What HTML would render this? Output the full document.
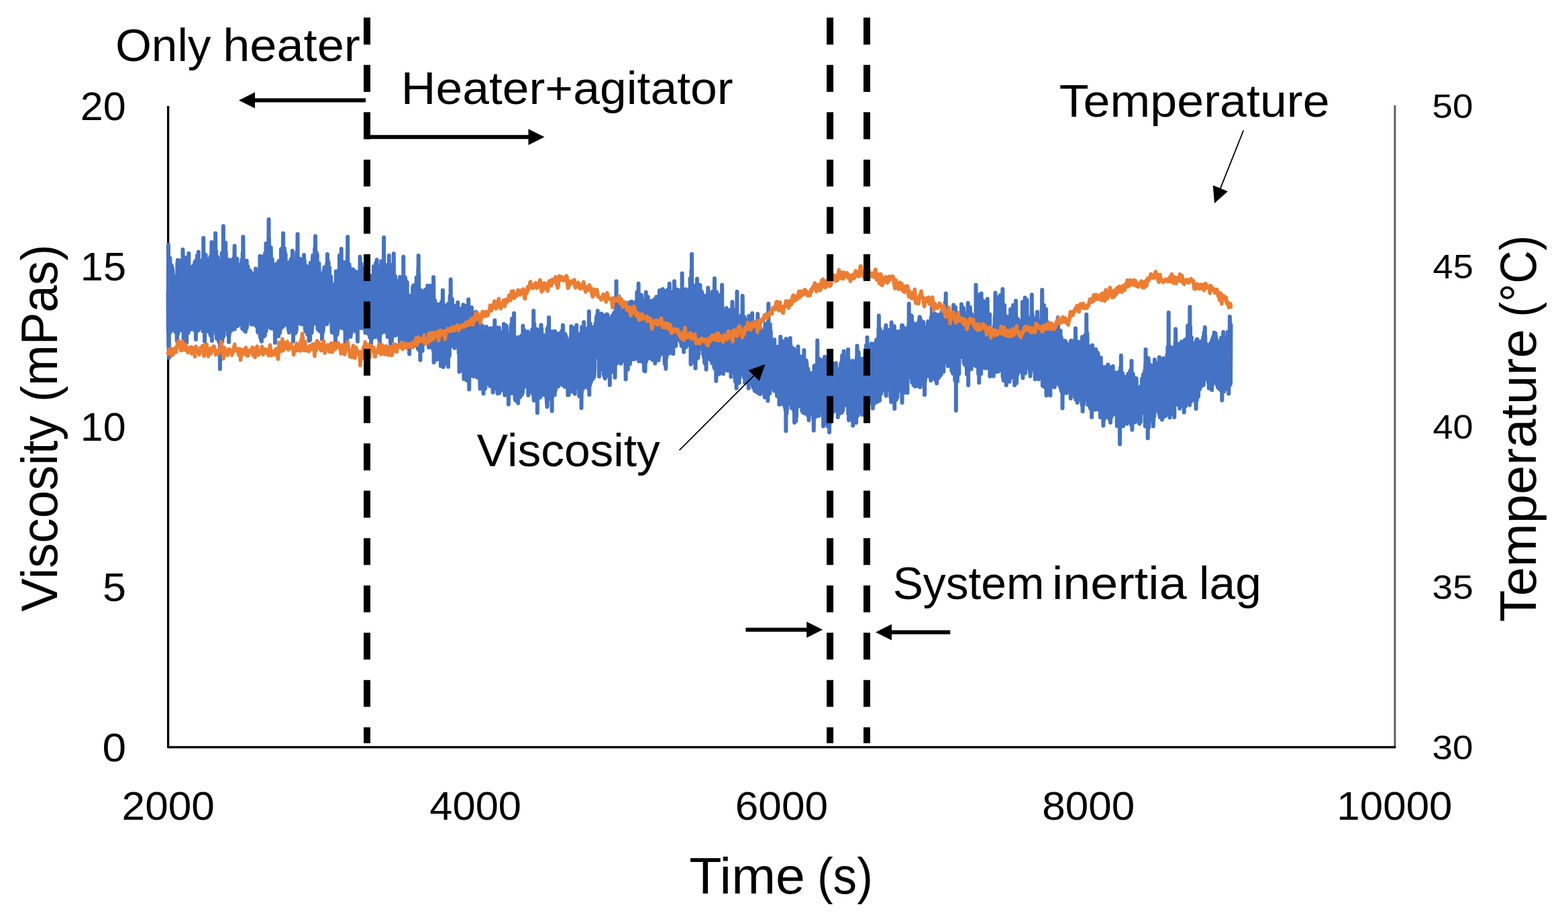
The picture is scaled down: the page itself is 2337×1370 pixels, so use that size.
<!DOCTYPE html>
<html lang="en"><head><meta charset="utf-8"><title>Viscosity and temperature vs time</title>
<style>html,body{margin:0;padding:0;background:#fff}body{width:2337px;height:1370px;overflow:hidden}svg{display:block}</style>
</head><body>
<svg width="2337" height="1370" viewBox="0 0 2337 1370" font-family="'Liberation Sans', sans-serif">
<rect width="2337" height="1370" fill="#fff"/>
<line x1="2079.0" y1="157.0" x2="2079.0" y2="1113.9" stroke="#5e5e5e" stroke-width="3.0"/>
<polyline points="250.6,158.0 250.6,1113.9 2080.3,1113.9" fill="none" stroke="#000" stroke-width="3.3" stroke-linejoin="round"/>
<polyline points="250.50,435.3 250.73,495.9 250.95,364.7 251.18,516.4 251.41,448.8 251.63,384.6 251.86,533.2 252.08,416.4 252.31,393.3 252.54,384.7 252.76,458.0 252.99,487.5 253.22,396.6 253.44,384.4 253.67,433.0 253.89,495.2 254.12,471.6 254.35,477.5 254.57,395.0 254.80,466.5 255.03,440.4 255.25,422.5 255.48,492.5 255.71,489.5 255.93,396.0 256.16,414.3 256.38,444.2 256.61,491.3 256.84,448.5 257.06,399.8 257.29,484.2 257.52,404.8 257.74,408.3 257.97,453.3 258.19,478.7 258.42,474.5 258.65,416.9 258.87,428.1 259.10,433.9 259.33,427.4 259.55,474.3 259.78,418.6 260.01,481.9 260.23,412.1 260.46,438.0 260.68,441.3 260.91,433.4 261.14,494.4 261.36,434.0 261.59,422.5 261.82,492.6 262.04,482.2 262.27,456.1 262.49,494.5 262.72,480.2 262.95,444.1 263.17,429.4 263.40,430.3 263.63,507.0 263.85,495.2 264.08,509.0 264.31,392.7 264.53,458.3 264.76,387.8 264.98,462.7 265.21,390.6 265.44,497.6 265.66,460.8 265.89,442.9 266.12,437.4 266.34,393.5 266.57,392.3 266.79,388.3 267.02,410.6 267.25,416.8 267.47,491.1 267.70,451.9 267.93,388.6 268.15,392.3 268.38,395.4 268.61,487.0 268.83,470.0 269.06,490.3 269.28,420.4 269.51,492.2 269.74,395.7 269.96,395.8 270.19,490.3 270.42,489.7 270.64,488.8 270.87,487.6 271.09,394.4 271.32,450.9 271.55,467.0 271.77,460.0 272.00,484.1 272.23,483.4 272.45,371.9 272.68,411.7 272.91,394.6 273.13,395.3 273.36,480.7 273.58,509.5 273.81,465.8 274.04,487.1 274.26,445.7 274.49,492.9 274.72,419.3 274.94,404.5 275.17,428.2 275.39,408.1 275.62,420.8 275.85,390.9 276.07,384.1 276.30,414.6 276.53,469.5 276.75,496.5 276.98,387.8 277.21,394.9 277.43,449.9 277.66,455.2 277.88,405.9 278.11,511.0 278.34,416.7 278.56,398.9 278.79,457.9 279.02,430.9 279.24,484.5 279.47,451.3 279.70,430.2 279.92,400.7 280.15,442.8 280.37,493.0 280.60,495.9 280.83,419.5 281.05,492.3 281.28,377.8 281.51,484.4 281.73,487.5 281.96,490.3 282.18,488.0 282.41,491.4 282.64,447.0 282.86,445.6 283.09,486.6 283.32,448.2 283.54,484.7 283.77,470.9 284.00,487.6 284.22,443.0 284.45,437.1 284.67,397.9 284.90,487.8 285.13,487.1 285.35,443.7 285.58,425.9 285.81,489.5 286.03,490.9 286.26,399.7 286.48,440.3 286.71,484.8 286.94,482.6 287.16,486.7 287.39,487.5 287.62,456.5 287.84,479.6 288.07,488.7 288.30,466.5 288.52,395.8 288.75,445.4 288.97,413.8 289.20,452.2 289.43,396.3 289.65,488.2 289.88,487.9 290.11,492.1 290.33,390.7 290.56,438.3 290.78,412.7 291.01,492.9 291.24,427.0 291.46,433.4 291.69,435.4 291.92,506.0 292.14,478.5 292.37,388.0 292.60,494.6 292.82,478.7 293.05,440.1 293.27,424.0 293.50,386.7 293.73,484.5 293.95,381.1 294.18,447.9 294.41,394.4 294.63,458.0 294.86,484.6 295.08,393.1 295.31,381.0 295.54,492.4 295.76,375.5 295.99,484.0 296.22,401.2 296.44,423.2 296.67,489.5 296.90,486.4 297.12,387.5 297.35,435.0 297.57,390.3 297.80,458.5 298.03,393.2 298.25,410.5 298.48,393.1 298.71,398.5 298.93,484.0 299.16,390.7 299.38,393.9 299.61,488.9 299.84,392.3 300.06,489.3 300.29,467.2 300.52,471.4 300.74,432.3 300.97,485.9 301.20,390.1 301.42,486.0 301.65,402.0 301.87,402.2 302.10,390.4 302.33,493.7 302.55,443.0 302.78,425.4 303.01,426.7 303.23,354.8 303.46,442.9 303.68,394.3 303.91,491.7 304.14,377.9 304.36,483.5 304.59,415.7 304.82,395.5 305.04,509.0 305.27,464.8 305.50,403.9 305.72,489.8 305.95,433.0 306.17,387.3 306.40,494.5 306.63,380.0 306.85,444.9 307.08,446.7 307.31,432.1 307.53,402.7 307.76,396.8 307.98,485.7 308.21,436.4 308.44,492.7 308.66,395.0 308.89,480.1 309.12,483.9 309.34,400.0 309.57,399.5 309.80,492.3 310.02,401.7 310.25,487.9 310.47,399.2 310.70,491.1 310.93,492.2 311.15,492.9 311.38,464.0 311.61,401.9 311.83,494.9 312.06,386.8 312.28,493.1 312.51,459.2 312.74,489.2 312.96,389.9 313.19,497.9 313.42,382.9 313.64,494.6 313.87,393.4 314.10,500.5 314.32,498.5 314.55,390.0 314.77,404.2 315.00,420.8 315.23,382.0 315.45,361.1 315.68,433.3 315.91,508.0 316.13,477.2 316.36,431.7 316.58,497.7 316.81,410.8 317.04,400.8 317.26,414.1 317.49,468.0 317.72,392.3 317.94,490.5 318.17,491.8 318.40,491.4 318.62,428.7 318.85,488.6 319.07,455.1 319.30,491.0 319.53,487.5 319.75,486.1 319.98,404.5 320.21,401.0 320.43,386.4 320.66,406.5 320.88,422.4 321.11,347.7 321.34,396.8 321.56,382.0 321.79,488.5 322.02,398.0 322.24,374.6 322.47,410.8 322.70,391.2 322.92,504.6 323.15,495.0 323.37,387.4 323.60,501.7 323.83,495.1 324.05,487.9 324.28,383.5 324.51,488.3 324.73,475.1 324.96,460.6 325.18,467.7 325.41,463.6 325.64,506.9 325.86,497.6 326.09,472.1 326.32,509.7 326.54,389.5 326.77,436.8 327.00,392.0 327.22,427.4 327.45,390.8 327.67,390.7 327.90,550.0 328.13,511.3 328.35,434.9 328.58,484.0 328.81,518.0 329.03,399.4 329.26,415.2 329.48,419.3 329.71,438.9 329.94,401.8 330.16,492.6 330.39,434.3 330.62,377.2 330.84,500.3 331.07,492.9 331.30,509.1 331.52,379.9 331.75,483.5 331.97,417.2 332.20,441.0 332.43,460.3 332.65,436.2 332.88,336.9 333.11,501.7 333.33,488.0 333.56,412.6 333.79,446.5 334.01,488.1 334.24,416.0 334.46,483.6 334.69,434.3 334.92,490.7 335.14,488.5 335.37,487.6 335.60,427.4 335.82,429.2 336.05,361.8 336.27,397.7 336.50,410.1 336.73,375.5 336.95,457.2 337.18,461.8 337.41,402.4 337.63,478.9 337.86,450.7 338.09,412.3 338.31,385.9 338.54,437.5 338.76,447.3 338.99,400.6 339.22,404.2 339.44,459.5 339.67,499.3 339.90,395.8 340.12,494.8 340.35,467.0 340.57,442.3 340.80,431.6 341.03,510.0 341.25,410.5 341.48,453.7 341.71,499.7 341.93,447.7 342.16,403.6 342.39,388.6 342.61,413.9 342.84,487.9 343.06,489.5 343.29,387.6 343.52,493.8 343.74,390.1 343.97,440.0 344.20,391.2 344.42,491.0 344.65,475.4 344.87,398.3 345.10,466.6 345.33,453.6 345.55,397.9 345.78,398.0 346.01,401.1 346.23,491.7 346.46,489.1 346.69,439.0 346.91,436.6 347.14,439.1 347.36,486.0 347.59,441.8 347.82,487.9 348.04,442.1 348.27,408.1 348.50,384.6 348.72,417.2 348.95,389.5 349.17,456.3 349.40,385.1 349.63,366.5 349.85,490.4 350.08,398.9 350.31,396.2 350.53,446.9 350.76,456.5 350.99,388.6 351.21,430.7 351.44,390.8 351.66,393.6 351.89,417.2 352.12,409.4 352.34,420.9 352.57,413.9 352.80,443.0 353.02,388.7 353.25,385.7 353.47,419.2 353.70,427.2 353.93,411.0 354.15,486.0 354.38,393.7 354.61,462.5 354.83,395.9 355.06,407.9 355.29,473.3 355.51,394.6 355.74,402.0 355.96,407.2 356.19,433.6 356.42,400.0 356.64,411.7 356.87,413.2 357.10,458.8 357.32,405.9 357.55,413.0 357.77,447.7 358.00,479.9 358.23,414.9 358.45,408.7 358.68,483.9 358.91,407.0 359.13,435.9 359.36,484.5 359.59,441.5 359.81,423.8 360.04,445.7 360.26,387.4 360.49,421.2 360.72,443.1 360.94,427.6 361.17,490.0 361.40,451.0 361.62,377.6 361.85,440.5 362.07,450.4 362.30,353.0 362.53,370.2 362.75,407.6 362.98,444.5 363.21,490.8 363.43,490.5 363.66,492.2 363.89,398.9 364.11,491.2 364.34,460.9 364.56,452.0 364.79,395.8 365.02,396.3 365.24,402.6 365.47,476.9 365.70,398.8 365.92,494.5 366.15,454.9 366.37,420.9 366.60,408.2 366.83,435.3 367.05,489.9 367.28,443.4 367.51,392.6 367.73,388.7 367.96,488.1 368.19,432.0 368.41,419.1 368.64,449.9 368.86,419.9 369.09,431.2 369.32,397.1 369.54,397.7 369.77,458.7 370.00,409.7 370.22,455.2 370.45,452.6 370.67,459.0 370.90,457.3 371.13,470.0 371.35,432.8 371.58,427.6 371.81,466.4 372.03,409.2 372.26,413.0 372.49,403.4 372.71,418.8 372.94,471.8 373.16,477.3 373.39,427.6 373.62,405.3 373.84,419.1 374.07,449.9 374.30,483.5 374.52,439.5 374.75,471.3 374.97,468.8 375.20,407.2 375.43,478.4 375.65,481.4 375.88,462.6 376.11,443.2 376.33,483.5 376.56,462.5 376.79,449.6 377.01,458.2 377.24,483.5 377.46,417.1 377.69,439.7 377.92,431.9 378.14,452.6 378.37,449.3 378.60,433.3 378.82,454.6 379.05,441.9 379.27,480.9 379.50,477.3 379.73,444.7 379.95,446.3 380.18,434.7 380.41,420.2 380.63,455.4 380.86,471.4 381.09,400.5 381.31,411.1 381.54,477.2 381.76,485.9 381.99,416.1 382.22,411.6 382.44,409.6 382.67,474.5 382.90,452.2 383.12,442.8 383.35,421.1 383.58,469.2 383.80,433.8 384.03,494.3 384.25,493.6 384.48,474.5 384.71,495.7 384.93,453.1 385.16,436.4 385.39,490.2 385.61,483.5 385.84,489.0 386.06,488.4 386.29,491.0 386.52,464.0 386.74,469.3 386.97,490.2 387.20,415.7 387.42,381.8 387.65,395.5 387.88,502.2 388.10,448.6 388.33,455.0 388.55,504.4 388.78,388.3 389.01,506.4 389.23,386.4 389.46,390.0 389.69,435.2 389.91,509.0 390.14,389.5 390.36,496.1 390.59,489.1 390.82,491.0 391.04,493.1 391.27,389.4 391.50,491.1 391.72,384.7 391.95,382.2 392.18,389.9 392.40,390.0 392.63,393.1 392.85,383.6 393.08,495.7 393.31,501.6 393.53,392.8 393.76,481.8 393.99,500.2 394.21,443.2 394.44,497.1 394.66,500.2 394.89,499.5 395.12,377.2 395.34,391.0 395.57,386.2 395.80,492.0 396.02,473.1 396.25,494.0 396.48,362.9 396.70,493.6 396.93,396.1 397.15,465.1 397.38,488.7 397.61,385.0 397.83,466.1 398.06,392.2 398.29,387.0 398.51,377.8 398.74,416.4 398.96,397.6 399.19,394.6 399.42,376.9 399.64,398.9 399.87,436.4 400.10,397.8 400.32,357.4 400.55,327.0 400.78,382.6 401.00,356.0 401.23,390.3 401.45,384.6 401.68,381.7 401.91,447.3 402.13,455.2 402.36,456.7 402.59,483.8 402.81,486.0 403.04,447.9 403.26,488.9 403.49,434.0 403.72,369.0 403.94,385.2 404.17,394.7 404.40,430.8 404.62,488.1 404.85,387.1 405.08,489.8 405.30,408.3 405.53,484.0 405.75,386.4 405.98,482.7 406.21,430.1 406.43,434.5 406.66,486.9 406.89,482.0 407.11,478.1 407.34,444.6 407.56,399.2 407.79,399.4 408.02,394.2 408.24,398.5 408.47,395.7 408.70,398.8 408.92,486.7 409.15,443.9 409.38,450.9 409.60,402.5 409.83,502.9 410.05,511.0 410.28,435.5 410.51,449.9 410.73,442.8 410.96,439.2 411.19,494.2 411.41,444.7 411.64,469.7 411.86,402.6 412.09,495.6 412.32,486.0 412.54,393.0 412.77,411.0 413.00,500.9 413.22,400.5 413.45,422.7 413.68,416.9 413.90,495.5 414.13,393.0 414.35,494.8 414.58,437.6 414.81,444.8 415.03,501.2 415.26,394.0 415.49,389.3 415.71,390.7 415.94,451.0 416.16,495.4 416.39,429.3 416.62,496.7 416.84,453.1 417.07,496.2 417.30,494.0 417.52,491.3 417.75,407.6 417.98,491.4 418.20,465.5 418.43,467.3 418.65,431.0 418.88,371.8 419.11,436.0 419.33,458.2 419.56,448.8 419.79,480.0 420.01,370.5 420.24,444.7 420.46,440.3 420.69,457.1 420.92,409.4 421.14,484.3 421.37,435.5 421.60,487.3 421.82,486.2 422.05,347.7 422.28,451.2 422.50,458.0 422.73,436.7 422.95,457.0 423.18,408.5 423.41,375.5 423.63,371.0 423.86,369.8 424.09,386.6 424.31,461.9 424.54,375.1 424.76,386.2 424.99,467.9 425.22,396.7 425.44,380.6 425.67,378.9 425.90,477.5 426.12,447.5 426.35,449.4 426.58,446.7 426.80,484.5 427.03,456.8 427.25,408.1 427.48,481.5 427.71,473.4 427.93,442.0 428.16,396.2 428.39,480.0 428.61,458.3 428.84,393.5 429.06,473.2 429.29,393.4 429.52,435.4 429.74,394.8 429.97,490.5 430.20,491.8 430.42,493.3 430.65,411.5 430.88,495.8 431.10,425.6 431.33,467.0 431.55,390.5 431.78,494.6 432.01,396.6 432.23,470.6 432.46,456.6 432.69,479.0 432.91,490.0 433.14,450.9 433.36,492.8 433.59,389.1 433.82,386.2 434.04,412.6 434.27,473.9 434.50,388.5 434.72,484.3 434.95,434.0 435.18,432.4 435.40,388.7 435.63,488.4 435.85,373.7 436.08,434.0 436.31,396.8 436.53,425.5 436.76,420.6 436.99,509.0 437.21,397.0 437.44,437.0 437.67,449.9 437.89,449.7 438.12,411.6 438.34,488.7 438.57,388.3 438.80,465.8 439.02,388.6 439.25,441.3 439.48,390.2 439.70,461.5 439.93,496.9 440.15,391.4 440.38,490.8 440.61,492.5 440.83,477.3 441.06,482.5 441.29,494.5 441.51,490.6 441.74,491.2 441.97,396.1 442.19,375.9 442.42,431.9 442.64,448.2 442.87,482.8 443.10,449.8 443.32,379.6 443.55,348.9 443.78,480.1 444.00,477.2 444.23,473.2 444.45,384.6 444.68,406.1 444.91,461.3 445.13,389.1 445.36,446.7 445.59,481.5 445.81,395.8 446.04,460.9 446.27,470.7 446.49,391.9 446.72,398.6 446.94,385.8 447.17,395.7 447.40,455.5 447.62,443.2 447.85,393.5 448.08,396.6 448.30,483.0 448.53,387.7 448.75,393.3 448.98,387.1 449.21,392.0 449.43,469.5 449.66,390.8 449.89,411.5 450.11,440.8 450.34,432.4 450.57,399.6 450.79,403.4 451.02,415.6 451.24,408.5 451.47,483.5 451.70,400.1 451.92,399.0 452.15,467.7 452.38,404.6 452.60,449.5 452.83,476.8 453.05,380.0 453.28,417.1 453.51,387.5 453.73,388.0 453.96,467.6 454.19,412.7 454.41,405.3 454.64,490.4 454.87,438.9 455.09,438.5 455.32,492.5 455.54,494.2 455.77,492.0 456.00,396.0 456.22,448.0 456.45,396.2 456.68,472.0 456.90,456.1 457.13,483.9 457.35,427.8 457.58,466.3 457.81,398.1 458.03,497.0 458.26,498.5 458.49,403.3 458.71,435.5 458.94,443.8 459.17,401.9 459.39,497.9 459.62,429.3 459.84,404.4 460.07,403.0 460.30,422.1 460.52,507.9 460.75,463.1 460.98,463.5 461.20,495.0 461.43,472.7 461.65,437.5 461.88,476.9 462.11,507.0 462.33,412.7 462.56,487.8 462.79,391.8 463.01,402.6 463.24,454.3 463.47,423.7 463.69,396.0 463.92,426.6 464.14,420.4 464.37,496.3 464.60,446.3 464.82,494.5 465.05,440.6 465.28,489.5 465.50,397.7 465.73,458.9 465.95,384.8 466.18,380.8 466.41,472.4 466.63,482.3 466.86,388.3 467.09,455.2 467.31,425.4 467.54,413.4 467.77,477.2 467.99,462.2 468.22,383.5 468.44,471.6 468.67,472.1 468.90,405.4 469.12,370.3 469.35,430.6 469.58,424.7 469.80,475.3 470.03,352.1 470.25,417.5 470.48,421.2 470.71,456.5 470.93,460.5 471.16,482.9 471.39,439.0 471.61,443.2 471.84,376.4 472.07,387.7 472.29,444.5 472.52,378.7 472.74,379.7 472.97,465.8 473.20,414.3 473.42,490.5 473.65,478.1 473.88,449.7 474.10,420.5 474.33,431.5 474.55,469.6 474.78,406.0 475.01,437.1 475.23,475.1 475.46,392.8 475.69,410.2 475.91,493.2 476.14,451.0 476.37,448.0 476.59,435.9 476.82,427.7 477.04,434.7 477.27,449.4 477.50,490.9 477.72,407.9 477.95,455.9 478.18,465.0 478.40,463.0 478.63,434.3 478.85,465.4 479.08,432.2 479.31,497.1 479.53,462.3 479.76,436.8 479.99,506.0 480.21,482.9 480.44,485.5 480.67,422.0 480.89,452.2 481.12,495.2 481.34,433.1 481.57,493.9 481.80,406.9 482.02,489.0 482.25,440.8 482.48,404.0 482.70,429.5 482.93,430.8 483.15,404.3 483.38,398.6 483.61,398.3 483.83,482.4 484.06,427.8 484.29,482.4 484.51,409.8 484.74,475.4 484.97,464.1 485.19,443.1 485.42,411.3 485.64,477.4 485.87,478.6 486.10,431.1 486.32,452.6 486.55,404.7 486.78,455.9 487.00,443.1 487.23,393.4 487.45,483.2 487.68,462.2 487.91,379.1 488.13,394.7 488.36,387.5 488.59,392.1 488.81,394.5 489.04,457.2 489.27,413.1 489.49,390.5 489.72,399.8 489.94,403.4 490.17,437.2 490.40,460.8 490.62,402.4 490.85,442.9 491.08,398.9 491.30,446.6 491.53,446.7 491.76,436.4 491.98,431.3 492.21,473.2 492.43,472.4 492.66,425.9 492.89,472.6 493.11,412.3 493.34,459.1 493.57,480.2 493.79,452.2 494.02,468.3 494.24,460.3 494.47,488.3 494.70,495.4 494.92,491.5 495.15,435.5 495.38,454.4 495.60,440.8 495.83,492.8 496.06,433.7 496.28,455.4 496.51,423.7 496.73,473.4 496.96,490.6 497.19,468.6 497.41,428.3 497.64,462.3 497.87,488.9 498.09,497.1 498.32,497.2 498.54,477.9 498.77,489.7 499.00,488.7 499.22,432.4 499.45,434.8 499.68,457.9 499.90,509.0 500.13,481.9 500.36,431.5 500.58,472.9 500.81,404.5 501.03,436.0 501.26,428.2 501.49,406.2 501.71,499.5 501.94,404.3 502.17,488.9 502.39,458.8 502.62,497.9 502.84,460.8 503.07,446.9 503.30,493.2 503.52,443.3 503.75,471.1 503.98,488.0 504.20,424.4 504.43,427.3 504.66,462.4 504.88,430.2 505.11,480.8 505.33,482.2 505.56,483.7 505.79,482.5 506.01,380.7 506.24,459.9 506.47,387.7 506.69,485.6 506.92,484.8 507.14,486.9 507.37,450.1 507.60,481.9 507.82,481.6 508.05,472.4 508.28,473.1 508.50,443.4 508.73,371.0 508.96,431.2 509.18,488.8 509.41,484.6 509.63,439.9 509.86,477.8 510.09,480.0 510.31,409.6 510.54,485.9 510.77,391.0 510.99,421.1 511.22,455.0 511.44,392.9 511.67,391.2 511.90,421.0 512.12,485.2 512.35,483.1 512.58,486.6 512.80,490.1 513.03,391.0 513.26,458.6 513.48,489.0 513.71,391.6 513.93,399.3 514.16,394.5 514.39,422.1 514.61,512.3 514.84,492.0 515.07,423.2 515.29,503.0 515.52,422.6 515.74,399.1 515.97,458.2 516.20,458.5 516.42,437.5 516.65,432.0 516.88,438.3 517.10,511.0 517.33,484.0 517.56,494.1 517.78,380.9 518.01,388.7 518.23,353.0 518.46,486.7 518.69,427.7 518.91,486.7 519.14,401.7 519.37,492.8 519.59,492.9 519.82,488.3 520.04,493.3 520.27,405.2 520.50,456.3 520.72,394.3 520.95,471.4 521.18,498.5 521.40,498.6 521.63,487.4 521.86,463.5 522.08,418.7 522.31,498.3 522.53,502.0 522.76,460.2 522.99,466.1 523.21,450.9 523.44,497.7 523.67,493.9 523.89,401.6 524.12,433.3 524.34,407.8 524.57,480.9 524.80,491.5 525.02,488.1 525.25,425.6 525.48,489.4 525.70,438.3 525.93,489.7 526.16,401.6 526.38,490.6 526.61,481.4 526.83,447.3 527.06,490.9 527.29,415.1 527.51,415.5 527.74,404.6 527.97,476.6 528.19,491.6 528.42,487.4 528.64,404.3 528.87,446.9 529.10,451.0 529.32,489.7 529.55,405.2 529.78,493.7 530.00,484.2 530.23,485.0 530.46,407.6 530.68,408.2 530.91,483.9 531.13,486.3 531.36,460.0 531.59,425.9 531.81,489.4 532.04,470.8 532.27,427.3 532.49,484.6 532.72,495.7 532.94,509.0 533.17,405.4 533.40,488.2 533.62,428.5 533.85,441.6 534.08,440.6 534.30,458.7 534.53,423.9 534.76,476.5 534.98,436.8 535.21,458.7 535.43,488.6 535.66,485.3 535.89,471.9 536.11,435.3 536.34,473.0 536.57,382.7 536.79,485.5 537.02,444.4 537.24,421.7 537.47,406.8 537.70,489.0 537.92,418.1 538.15,423.8 538.38,393.1 538.60,408.5 538.83,466.5 539.06,487.7 539.28,486.4 539.51,488.5 539.73,488.9 539.96,488.4 540.19,448.1 540.41,464.3 540.64,482.4 540.87,399.6 541.09,459.7 541.32,446.2 541.55,478.5 541.77,481.1 542.00,483.8 542.22,464.5 542.45,457.1 542.68,447.2 542.90,433.9 543.13,418.9 543.36,456.9 543.58,471.6 543.81,399.9 544.03,400.8 544.26,400.4 544.49,496.3 544.71,448.3 544.94,414.3 545.17,492.2 545.39,414.8 545.62,452.6 545.85,489.6 546.07,434.2 546.30,420.5 546.52,458.2 546.75,414.7 546.98,489.7 547.20,464.2 547.43,485.7 547.66,472.5 547.88,412.1 548.11,457.3 548.33,431.5 548.56,418.5 548.79,440.2 549.01,496.2 549.24,476.1 549.47,497.6 549.69,433.0 549.92,454.3 550.15,418.7 550.37,499.6 550.60,456.3 550.82,451.8 551.05,447.6 551.28,503.1 551.50,468.9 551.73,502.7 551.96,454.2 552.18,489.2 552.41,503.8 552.63,502.5 552.86,493.5 553.09,513.0 553.31,435.0 553.54,420.5 553.77,445.7 553.99,505.9 554.22,411.1 554.45,467.4 554.67,410.8 554.90,452.4 555.12,455.7 555.35,485.5 555.58,449.8 555.80,440.5 556.03,476.4 556.26,487.7 556.48,493.5 556.71,418.4 556.93,397.3 557.16,496.9 557.39,492.9 557.61,496.6 557.84,400.2 558.07,497.8 558.29,402.6 558.52,496.4 558.75,502.4 558.97,499.5 559.20,501.2 559.42,502.0 559.65,459.9 559.88,500.3 560.10,391.9 560.33,499.7 560.56,459.5 560.78,497.8 561.01,395.5 561.23,498.8 561.46,430.0 561.69,387.2 561.91,436.6 562.14,395.5 562.37,415.5 562.59,495.6 562.82,409.5 563.05,496.7 563.27,408.2 563.50,463.4 563.72,465.8 563.95,453.0 564.18,498.4 564.40,480.0 564.63,504.9 564.86,503.4 565.08,500.2 565.31,405.1 565.53,447.0 565.76,434.0 565.99,517.0 566.21,411.8 566.44,442.6 566.67,413.9 566.89,407.7 567.12,484.6 567.35,468.9 567.57,457.3 567.80,414.3 568.02,497.0 568.25,389.4 568.48,409.0 568.70,493.2 568.93,491.7 569.16,495.4 569.38,495.5 569.61,490.9 569.83,451.4 570.06,492.7 570.29,395.6 570.51,491.6 570.74,477.2 570.97,486.0 571.19,454.2 571.42,472.1 571.65,475.1 571.87,413.1 572.10,353.9 572.32,455.3 572.55,464.6 572.78,491.9 573.00,471.0 573.23,462.5 573.46,399.2 573.68,456.2 573.91,413.2 574.13,445.5 574.36,402.2 574.59,413.2 574.81,494.9 575.04,426.1 575.27,422.5 575.49,395.4 575.72,483.5 575.95,490.3 576.17,494.3 576.40,443.8 576.62,413.0 576.85,408.8 577.08,456.1 577.30,405.5 577.53,412.9 577.76,502.3 577.98,441.3 578.21,406.4 578.43,452.9 578.66,411.6 578.89,403.7 579.11,468.8 579.34,408.9 579.57,410.7 579.79,380.9 580.02,494.1 580.25,400.1 580.47,472.3 580.70,489.1 580.92,499.0 581.15,431.0 581.38,430.4 581.60,500.4 581.83,407.1 582.06,519.0 582.28,434.5 582.51,436.5 582.73,470.1 582.96,394.9 583.19,452.4 583.41,402.9 583.64,468.4 583.87,508.6 584.09,400.1 584.32,505.6 584.55,421.2 584.77,445.4 585.00,457.8 585.22,498.6 585.45,401.3 585.68,451.8 585.90,398.7 586.13,426.7 586.36,496.0 586.58,490.1 586.81,378.0 587.03,434.7 587.26,485.3 587.49,447.4 587.71,474.1 587.94,492.4 588.17,446.8 588.39,493.8 588.62,422.1 588.85,474.3 589.07,411.7 589.30,500.0 589.52,481.7 589.75,500.0 589.98,482.0 590.20,460.3 590.43,443.9 590.66,444.9 590.88,456.2 591.11,460.3 591.33,498.3 591.56,426.6 591.79,424.6 592.01,496.0 592.24,480.5 592.47,446.5 592.69,456.1 592.92,480.5 593.15,454.5 593.37,418.6 593.60,470.4 593.82,487.5 594.05,423.0 594.28,453.5 594.50,484.6 594.73,427.6 594.96,459.0 595.18,493.1 595.41,434.5 595.64,482.8 595.86,509.0 596.09,413.0 596.31,414.8 596.54,511.9 596.77,491.6 596.99,500.5 597.22,476.8 597.45,437.8 597.67,459.2 597.90,457.8 598.12,517.5 598.35,511.4 598.58,461.9 598.80,477.8 599.03,488.1 599.26,415.9 599.48,494.7 599.71,434.2 599.94,504.7 600.16,437.0 600.39,459.1 600.61,421.2 600.84,459.6 601.07,487.2 601.29,382.7 601.52,496.5 601.75,492.5 601.97,459.8 602.20,452.0 602.42,419.9 602.65,479.9 602.88,506.3 603.10,494.9 603.33,503.5 603.56,447.1 603.78,413.2 604.01,507.7 604.24,416.1 604.46,418.2 604.69,465.0 604.91,460.1 605.14,423.1 605.37,482.2 605.59,495.2 605.82,511.7 606.05,474.3 606.27,479.1 606.50,472.0 606.72,420.8 606.95,454.7 607.18,513.1 607.40,438.8 607.63,492.5 607.86,517.1 608.08,476.0 608.31,510.6 608.54,451.7 608.76,456.5 608.99,510.8 609.21,484.5 609.44,478.4 609.67,518.4 609.89,485.1 610.12,527.7 610.35,447.7 610.57,483.7 610.80,477.7 611.02,462.8 611.25,503.3 611.48,500.6 611.70,458.3 611.93,457.5 612.16,449.9 612.38,467.1 612.61,462.3 612.84,502.2 613.06,440.4 613.29,515.5 613.51,458.1 613.74,501.5 613.97,460.8 614.19,505.8 614.42,504.0 614.65,511.4 614.87,489.0 615.10,428.0 615.32,436.8 615.55,443.1 615.78,429.9 616.00,512.2 616.23,509.5 616.46,425.2 616.68,484.0 616.91,479.5 617.14,456.3 617.36,515.2 617.59,467.4 617.81,465.7 618.04,450.9 618.27,468.8 618.49,476.2 618.72,477.2 618.95,450.8 619.17,513.6 619.40,446.7 619.62,513.6 619.85,446.6 620.08,512.5 620.30,426.3 620.53,452.7 620.76,413.4 620.98,461.4 621.21,486.5 621.44,417.0 621.66,453.7 621.89,475.8 622.11,509.5 622.34,447.5 622.57,469.2 622.79,520.0 623.02,515.9 623.25,401.1 623.47,517.0 623.70,380.9 623.92,459.9 624.15,409.2 624.38,522.0 624.60,463.4 624.83,515.9 625.06,477.5 625.28,444.5 625.51,507.7 625.74,508.3 625.96,503.8 626.19,517.1 626.41,536.7 626.64,436.0 626.87,432.4 627.09,461.1 627.32,463.9 627.55,520.1 627.77,433.3 628.00,441.5 628.22,493.0 628.45,466.0 628.68,471.4 628.90,490.2 629.13,505.6 629.36,515.0 629.58,523.1 629.81,442.4 630.04,467.5 630.26,435.0 630.49,454.4 630.71,438.6 630.94,511.2 631.17,512.1 631.39,457.4 631.62,436.6 631.85,505.5 632.07,507.8 632.30,438.2 632.52,504.3 632.75,448.8 632.98,446.7 633.20,483.3 633.43,505.1 633.66,431.8 633.88,451.2 634.11,433.3 634.34,487.1 634.56,503.4 634.79,484.6 635.01,475.9 635.24,477.6 635.47,508.5 635.69,508.6 635.92,485.6 636.15,479.1 636.37,497.1 636.60,443.5 636.82,446.3 637.05,441.8 637.28,425.8 637.50,508.2 637.73,434.3 637.96,472.6 638.18,447.5 638.41,449.1 638.64,440.5 638.86,505.1 639.09,517.9 639.31,441.5 639.54,438.6 639.77,507.0 639.99,439.7 640.22,494.0 640.45,510.7 640.67,499.4 640.90,514.0 641.12,442.8 641.35,426.0 641.58,444.0 641.80,514.4 642.03,436.9 642.26,427.0 642.48,462.8 642.71,427.7 642.94,461.2 643.16,513.5 643.39,517.5 643.61,445.5 643.84,460.2 644.07,476.9 644.29,509.7 644.52,486.7 644.75,487.7 644.97,441.1 645.20,519.5 645.42,437.1 645.65,522.3 645.88,471.4 646.10,413.3 646.33,433.9 646.56,540.3 646.78,530.0 647.01,465.8 647.24,532.6 647.46,533.0 647.69,467.4 647.91,529.6 648.14,448.0 648.37,504.3 648.59,534.3 648.82,512.1 649.05,515.1 649.27,495.4 649.50,500.4 649.73,466.5 649.95,455.2 650.18,461.5 650.40,536.2 650.63,484.0 650.86,532.3 651.08,536.1 651.31,459.6 651.54,534.9 651.76,529.5 651.99,533.4 652.21,492.9 652.44,529.0 652.67,453.6 652.89,457.7 653.12,501.0 653.35,479.3 653.57,521.3 653.80,528.3 654.03,526.9 654.25,530.6 654.48,513.4 654.70,488.8 654.93,499.5 655.16,463.4 655.38,493.5 655.61,502.4 655.84,525.0 656.06,478.2 656.29,498.3 656.51,457.1 656.74,524.6 656.97,545.6 657.19,513.1 657.42,528.6 657.65,528.1 657.87,496.2 658.10,450.0 658.33,498.0 658.55,536.3 658.78,538.9 659.00,526.8 659.23,539.5 659.46,480.9 659.68,460.4 659.91,432.7 660.14,470.3 660.36,546.9 660.59,544.7 660.81,547.1 661.04,540.0 661.27,537.6 661.49,476.0 661.72,467.8 661.95,538.4 662.17,472.0 662.40,468.3 662.63,473.9 662.85,503.3 663.08,540.6 663.30,490.3 663.53,541.7 663.76,542.4 663.98,455.2 664.21,541.7 664.44,540.7 664.66,458.2 664.89,505.7 665.11,517.2 665.34,537.5 665.57,461.4 665.79,492.6 666.02,465.1 666.25,466.0 666.47,528.1 666.70,505.8 666.93,503.0 667.15,481.8 667.38,529.3 667.60,467.0 667.83,463.8 668.06,546.7 668.28,452.5 668.51,481.4 668.74,486.8 668.96,455.6 669.19,499.1 669.41,472.8 669.64,531.1 669.87,529.7 670.09,510.7 670.32,498.8 670.55,445.4 670.77,441.3 671.00,503.3 671.23,489.2 671.45,501.0 671.68,416.5 671.90,512.9 672.13,486.2 672.36,445.8 672.58,481.0 672.81,492.0 673.04,465.6 673.26,515.8 673.49,499.3 673.71,449.3 673.94,445.7 674.17,514.7 674.39,504.1 674.62,464.2 674.85,458.0 675.07,501.8 675.30,462.6 675.53,502.5 675.75,479.3 675.98,487.7 676.20,467.9 676.43,502.9 676.66,503.3 676.88,461.5 677.11,495.4 677.34,518.7 677.56,461.4 677.79,492.5 678.01,507.0 678.24,458.4 678.47,480.4 678.69,458.1 678.92,476.7 679.15,457.7 679.37,455.4 679.60,457.5 679.83,492.6 680.05,461.1 680.28,482.1 680.50,501.4 680.73,499.7 680.96,474.3 681.18,501.5 681.41,516.4 681.64,507.4 681.86,464.0 682.09,483.0 682.31,450.7 682.54,461.7 682.77,464.5 682.99,502.8 683.22,496.1 683.45,493.8 683.67,525.9 683.90,498.7 684.13,467.7 684.35,466.4 684.58,554.3 684.80,480.7 685.03,532.3 685.26,461.9 685.48,461.2 685.71,538.5 685.94,508.4 686.16,468.2 686.39,507.1 686.61,517.6 686.84,506.6 687.07,460.2 687.29,549.5 687.52,551.5 687.75,515.9 687.97,550.3 688.20,526.4 688.43,512.0 688.65,461.2 688.88,464.0 689.10,552.2 689.33,552.0 689.56,460.6 689.78,460.9 690.01,498.7 690.24,465.8 690.46,454.3 690.69,461.5 690.91,467.2 691.14,524.0 691.37,565.1 691.59,460.6 691.82,541.4 692.05,540.0 692.27,542.6 692.50,544.3 692.73,554.0 692.95,485.4 693.18,500.1 693.40,459.0 693.63,463.9 693.86,460.2 694.08,464.3 694.31,462.1 694.54,557.1 694.76,536.8 694.99,500.6 695.21,505.7 695.44,455.7 695.67,566.9 695.89,462.7 696.12,561.5 696.35,483.9 696.57,560.9 696.80,521.3 697.03,564.8 697.25,468.6 697.48,513.0 697.70,557.2 697.93,561.3 698.16,446.2 698.38,467.4 698.61,471.8 698.84,480.8 699.06,566.6 699.29,580.4 699.52,483.3 699.74,514.8 699.97,481.1 700.19,559.2 700.42,561.4 700.65,509.3 700.87,525.7 701.10,490.5 701.33,494.9 701.55,553.1 701.78,472.7 702.00,468.3 702.23,558.2 702.46,556.3 702.68,553.3 702.91,458.3 703.14,468.9 703.36,549.8 703.59,466.5 703.82,465.5 704.04,467.0 704.27,558.8 704.49,555.3 704.72,473.5 704.95,470.7 705.17,471.2 705.40,471.3 705.63,548.8 705.85,560.3 706.08,561.1 706.30,545.0 706.53,517.1 706.76,475.1 706.98,471.1 707.21,471.1 707.44,527.7 707.66,477.8 707.89,530.9 708.12,550.3 708.34,549.3 708.57,476.5 708.79,503.5 709.02,556.6 709.25,465.0 709.47,527.0 709.70,554.4 709.93,475.1 710.15,559.7 710.38,559.1 710.60,533.6 710.83,522.0 711.06,481.1 711.28,562.7 711.51,512.9 711.74,529.4 711.96,561.0 712.19,541.9 712.42,535.2 712.64,482.9 712.87,518.9 713.09,550.3 713.32,480.0 713.55,508.1 713.77,558.3 714.00,564.0 714.23,481.0 714.45,482.6 714.68,517.7 714.90,519.2 715.13,486.9 715.36,559.9 715.58,579.5 715.81,554.3 716.04,511.9 716.26,570.5 716.49,533.8 716.72,564.5 716.94,515.6 717.17,489.8 717.39,542.2 717.62,503.0 717.85,526.1 718.07,521.1 718.30,511.1 718.53,506.4 718.75,485.3 718.98,533.6 719.20,569.7 719.43,526.1 719.66,517.7 719.88,532.2 720.11,508.6 720.34,503.1 720.56,586.7 720.79,565.3 721.02,541.1 721.24,539.3 721.47,497.9 721.69,499.3 721.92,575.1 722.15,574.4 722.37,577.7 722.60,502.9 722.83,567.0 723.05,579.5 723.28,579.1 723.50,575.4 723.73,538.8 723.96,532.5 724.18,540.8 724.41,568.1 724.64,551.7 724.86,486.9 725.09,510.8 725.32,572.6 725.54,570.0 725.77,496.7 725.99,564.6 726.22,493.1 726.45,567.9 726.67,523.5 726.90,560.0 727.13,543.8 727.35,511.0 727.58,563.2 727.80,500.5 728.03,564.8 728.26,568.3 728.48,567.9 728.71,530.0 728.94,518.6 729.16,538.4 729.39,491.0 729.62,548.0 729.84,543.0 730.07,521.6 730.29,575.4 730.52,489.4 730.75,547.4 730.97,573.9 731.20,493.9 731.43,496.5 731.65,527.3 731.88,573.4 732.10,575.1 732.33,529.8 732.56,550.8 732.78,503.3 733.01,572.0 733.24,573.6 733.46,572.6 733.69,562.8 733.92,524.7 734.14,489.2 734.37,492.3 734.59,584.9 734.82,577.8 735.05,492.0 735.27,543.6 735.50,577.9 735.73,553.0 735.95,579.7 736.18,514.2 736.40,512.0 736.63,540.8 736.86,520.5 737.08,536.6 737.31,477.6 737.54,527.4 737.76,494.1 737.99,540.9 738.22,578.9 738.44,547.1 738.67,528.5 738.89,567.1 739.12,490.6 739.35,519.0 739.57,576.1 739.80,488.1 740.03,492.2 740.25,509.5 740.48,553.8 740.70,554.8 740.93,545.2 741.16,571.3 741.38,585.6 741.61,547.5 741.84,586.8 742.06,585.1 742.29,583.5 742.52,552.7 742.74,586.4 742.97,547.7 743.19,491.2 743.42,557.9 743.65,491.1 743.87,488.4 744.10,490.3 744.33,585.7 744.55,569.7 744.78,584.3 745.00,497.5 745.23,498.0 745.46,554.2 745.68,572.9 745.91,511.3 746.14,511.7 746.36,517.0 746.59,536.7 746.82,568.2 747.04,535.8 747.27,547.4 747.49,495.5 747.72,496.4 747.95,547.0 748.17,546.9 748.40,516.3 748.63,544.0 748.85,543.7 749.08,560.4 749.30,522.8 749.53,539.7 749.76,578.2 749.98,512.7 750.21,581.4 750.44,517.8 750.66,564.2 750.89,483.1 751.12,494.5 751.34,510.7 751.57,493.1 751.79,546.9 752.02,586.6 752.25,563.3 752.47,589.1 752.70,554.2 752.93,520.1 753.15,577.4 753.38,484.8 753.61,563.3 753.83,580.9 754.06,572.0 754.28,487.1 754.51,513.9 754.74,575.8 754.96,486.6 755.19,512.9 755.42,491.2 755.64,525.3 755.87,551.0 756.09,541.3 756.32,573.4 756.55,496.4 756.77,504.1 757.00,512.5 757.23,580.2 757.45,581.8 757.68,546.1 757.91,602.8 758.13,545.4 758.36,497.7 758.58,522.7 758.81,513.7 759.04,501.8 759.26,555.5 759.49,509.1 759.72,587.6 759.94,501.8 760.17,582.6 760.39,501.8 760.62,571.0 760.85,504.0 761.07,560.1 761.30,552.9 761.53,563.0 761.75,484.1 761.98,505.3 762.21,574.8 762.43,543.1 762.66,506.4 762.88,578.1 763.11,475.0 763.34,585.7 763.56,581.8 763.79,540.2 764.02,557.3 764.24,584.1 764.47,570.2 764.69,551.3 764.92,583.5 765.15,538.8 765.37,583.6 765.60,535.8 765.83,514.9 766.05,467.0 766.28,559.0 766.51,557.6 766.73,584.3 766.96,588.6 767.18,534.8 767.41,574.5 767.64,595.1 767.86,593.5 768.09,596.3 768.32,579.2 768.54,555.9 768.77,543.4 768.99,597.3 769.22,554.9 769.45,511.4 769.67,576.8 769.90,509.0 770.13,587.2 770.35,506.8 770.58,526.3 770.81,550.1 771.03,548.1 771.26,545.5 771.48,505.1 771.71,502.8 771.94,589.7 772.16,601.0 772.39,566.3 772.62,504.2 772.84,531.8 773.07,513.2 773.29,503.5 773.52,588.3 773.75,512.8 773.97,560.3 774.20,565.2 774.43,509.9 774.65,544.9 774.88,545.7 775.11,592.1 775.33,565.1 775.56,591.1 775.78,572.9 776.01,588.2 776.24,578.9 776.46,542.8 776.69,523.1 776.92,500.5 777.14,501.5 777.37,521.5 777.59,554.5 777.82,588.4 778.05,539.2 778.27,574.2 778.50,576.9 778.73,531.2 778.95,537.1 779.18,584.8 779.41,485.7 779.63,537.7 779.86,501.6 780.08,542.2 780.31,537.2 780.54,571.1 780.76,543.5 780.99,499.4 781.22,492.2 781.44,576.9 781.67,501.8 781.89,539.1 782.12,552.7 782.35,529.9 782.57,575.8 782.80,560.0 783.03,554.1 783.25,552.3 783.48,563.2 783.71,497.9 783.93,517.7 784.16,501.0 784.38,535.5 784.61,532.0 784.84,544.7 785.06,545.7 785.29,504.5 785.52,535.5 785.74,499.4 785.97,563.2 786.19,498.2 786.42,524.1 786.65,494.2 786.87,502.0 787.10,550.3 787.33,589.3 787.55,558.9 787.78,501.5 788.01,558.4 788.23,509.2 788.46,547.2 788.68,504.6 788.91,535.1 789.14,509.9 789.36,508.1 789.59,537.6 789.82,576.5 790.04,505.2 790.27,498.6 790.49,584.5 790.72,502.9 790.95,562.6 791.17,513.5 791.40,541.9 791.63,524.6 791.85,509.4 792.08,569.1 792.31,523.7 792.53,553.4 792.76,533.7 792.98,579.9 793.21,491.2 793.44,495.0 793.66,552.9 793.89,583.8 794.12,566.4 794.34,579.3 794.57,588.5 794.79,582.7 795.02,522.4 795.25,463.3 795.47,592.5 795.70,596.0 795.93,597.1 796.15,590.7 796.38,482.8 796.61,517.5 796.83,588.2 797.06,561.6 797.28,523.8 797.51,520.3 797.74,536.5 797.96,593.8 798.19,581.3 798.42,555.4 798.64,509.8 798.87,596.5 799.09,501.6 799.32,523.7 799.55,579.3 799.77,501.2 800.00,523.5 800.23,491.1 800.45,492.1 800.68,491.0 800.91,615.4 801.13,516.0 801.36,496.8 801.58,584.6 801.81,589.5 802.04,577.1 802.26,500.5 802.49,499.5 802.72,547.5 802.94,563.2 803.17,591.1 803.39,559.3 803.62,501.6 803.85,528.5 804.07,522.7 804.30,524.1 804.53,554.7 804.75,497.4 804.98,522.1 805.21,592.6 805.43,525.1 805.66,498.0 805.88,544.4 806.11,494.4 806.34,487.6 806.56,484.5 806.79,574.8 807.02,577.2 807.24,490.2 807.47,530.4 807.70,532.6 807.92,552.5 808.15,502.3 808.37,565.1 808.60,517.8 808.83,588.0 809.05,543.3 809.28,588.5 809.51,548.2 809.73,586.3 809.96,541.5 810.18,585.3 810.41,582.5 810.64,581.8 810.86,501.1 811.09,579.5 811.32,499.9 811.54,582.4 811.77,582.2 812.00,574.5 812.22,567.6 812.45,549.8 812.67,585.2 812.90,560.8 813.13,587.5 813.35,586.5 813.58,517.0 813.81,576.6 814.03,540.8 814.26,593.0 814.48,537.2 814.71,507.7 814.94,600.0 815.16,500.1 815.39,606.4 815.62,490.1 815.84,605.1 816.07,494.7 816.30,554.5 816.52,516.0 816.75,502.4 816.97,487.2 817.20,523.5 817.43,588.4 817.65,590.3 817.88,505.8 818.11,473.2 818.33,523.7 818.56,588.1 818.78,590.5 819.01,524.8 819.24,511.9 819.46,593.4 819.69,555.5 819.92,552.2 820.14,546.3 820.37,516.7 820.60,594.7 820.82,541.0 821.05,590.0 821.27,560.2 821.50,536.7 821.73,529.2 821.95,505.4 822.18,505.3 822.41,494.3 822.63,612.7 822.86,505.7 823.08,506.4 823.31,563.7 823.54,503.6 823.76,539.9 823.99,505.1 824.22,553.4 824.44,561.9 824.67,508.4 824.90,504.9 825.12,582.5 825.35,540.4 825.57,507.6 825.80,587.5 826.03,547.2 826.25,548.4 826.48,539.3 826.71,588.8 826.93,493.8 827.16,583.5 827.38,568.5 827.61,546.7 827.84,496.1 828.06,524.6 828.29,580.6 828.52,520.5 828.74,550.8 828.97,562.6 829.20,500.1 829.42,497.5 829.65,573.3 829.87,505.4 830.10,527.7 830.33,553.0 830.55,545.4 830.78,500.5 831.01,497.4 831.23,511.1 831.46,518.3 831.68,501.0 831.91,548.1 832.14,576.1 832.36,503.7 832.59,509.4 832.82,504.5 833.04,544.9 833.27,570.4 833.50,500.5 833.72,532.5 833.95,503.4 834.17,510.8 834.40,566.9 834.63,501.4 834.85,498.5 835.08,500.1 835.31,496.5 835.53,497.7 835.76,529.8 835.98,531.6 836.21,516.8 836.44,520.5 836.66,520.5 836.89,542.6 837.12,509.7 837.34,506.8 837.57,493.0 837.80,494.1 838.02,573.8 838.25,554.4 838.47,498.9 838.70,536.9 838.93,484.8 839.15,490.3 839.38,533.8 839.61,513.6 839.83,571.9 840.06,539.3 840.28,498.2 840.51,549.3 840.74,574.6 840.96,528.3 841.19,551.5 841.42,499.3 841.64,532.4 841.87,576.7 842.10,543.5 842.32,497.9 842.55,533.0 842.77,506.1 843.00,568.6 843.23,500.8 843.45,571.6 843.68,570.5 843.91,536.6 844.13,504.1 844.36,504.4 844.58,573.2 844.81,516.5 845.04,531.9 845.26,557.1 845.49,508.7 845.72,508.5 845.94,510.2 846.17,508.0 846.40,588.9 846.62,507.7 846.85,574.8 847.07,511.5 847.30,586.8 847.53,547.8 847.75,588.5 847.98,561.7 848.21,579.0 848.43,555.0 848.66,551.0 848.88,578.9 849.11,519.3 849.34,542.7 849.56,514.6 849.79,508.2 850.02,532.7 850.24,524.9 850.47,514.1 850.70,501.5 850.92,572.1 851.15,575.6 851.37,486.6 851.60,534.4 851.83,544.8 852.05,509.8 852.28,503.3 852.51,583.5 852.73,500.3 852.96,505.8 853.18,501.9 853.41,503.5 853.64,584.1 853.86,497.1 854.09,559.3 854.32,495.1 854.54,549.2 854.77,579.4 855.00,534.6 855.22,582.8 855.45,489.1 855.67,541.6 855.90,498.4 856.13,491.3 856.35,544.2 856.58,497.3 856.81,587.1 857.03,569.7 857.26,538.5 857.48,546.4 857.71,508.2 857.94,545.8 858.16,513.3 858.39,520.0 858.62,500.0 858.84,500.7 859.07,507.7 859.30,484.8 859.52,554.0 859.75,530.9 859.97,540.7 860.20,532.7 860.43,509.9 860.65,562.1 860.88,573.6 861.11,530.9 861.33,573.0 861.56,577.3 861.79,535.5 862.01,578.4 862.24,577.3 862.46,552.0 862.69,499.0 862.92,573.9 863.14,565.6 863.37,590.6 863.60,581.0 863.82,579.6 864.05,516.7 864.27,589.4 864.50,562.0 864.73,587.0 864.95,530.4 865.18,554.3 865.41,562.9 865.63,497.1 865.86,501.5 866.09,505.4 866.31,522.1 866.54,608.2 866.76,575.7 866.99,585.6 867.22,487.6 867.44,522.7 867.67,496.4 867.90,506.0 868.12,551.6 868.35,526.8 868.57,549.2 868.80,566.6 869.03,511.6 869.25,579.0 869.48,568.6 869.71,506.0 869.93,502.4 870.16,480.3 870.39,563.4 870.61,569.5 870.84,568.0 871.06,506.8 871.29,501.6 871.52,525.9 871.74,562.6 871.97,523.0 872.20,510.2 872.42,569.7 872.65,560.3 872.87,519.9 873.10,491.9 873.33,569.3 873.55,495.6 873.78,569.4 874.01,496.4 874.23,557.1 874.46,490.6 874.69,525.8 874.91,491.9 875.14,577.4 875.36,523.7 875.59,515.8 875.82,571.4 876.04,576.6 876.27,572.1 876.50,488.4 876.72,491.4 876.95,579.0 877.17,529.2 877.40,549.3 877.63,491.0 877.85,464.2 878.08,489.8 878.31,588.5 878.53,537.7 878.76,495.4 878.99,508.2 879.21,553.5 879.44,573.8 879.66,482.3 879.89,569.2 880.12,540.9 880.34,508.9 880.57,559.0 880.80,493.6 881.02,569.2 881.25,564.1 881.47,565.7 881.70,502.1 881.93,512.5 882.15,528.1 882.38,552.2 882.61,524.6 882.83,535.2 883.06,543.5 883.29,488.5 883.51,543.1 883.74,564.7 883.96,543.1 884.19,503.5 884.42,506.3 884.64,500.2 884.87,487.7 885.10,561.4 885.32,557.4 885.55,554.4 885.77,561.7 886.00,510.7 886.23,552.6 886.45,495.3 886.68,489.3 886.91,496.0 887.13,485.5 887.36,523.1 887.59,482.0 887.81,482.2 888.04,482.3 888.26,525.0 888.49,508.2 888.72,481.1 888.94,473.3 889.17,471.5 889.40,472.1 889.62,476.0 889.85,471.1 890.07,491.4 890.30,470.2 890.53,484.2 890.75,463.3 890.98,502.9 891.21,503.2 891.43,523.5 891.66,478.2 891.89,533.3 892.11,519.6 892.34,495.0 892.56,478.4 892.79,527.8 893.02,561.2 893.24,473.0 893.47,474.0 893.70,537.2 893.92,473.7 894.15,478.1 894.37,508.7 894.60,477.2 894.83,538.8 895.05,474.5 895.28,473.4 895.51,485.4 895.73,549.9 895.96,472.5 896.19,537.3 896.41,467.6 896.64,518.7 896.86,470.7 897.09,503.6 897.32,543.1 897.54,543.2 897.77,506.7 898.00,469.6 898.22,498.4 898.45,471.6 898.67,469.8 898.90,499.4 899.13,525.6 899.35,547.6 899.58,557.7 899.81,512.1 900.03,532.6 900.26,470.8 900.49,528.0 900.71,561.3 900.94,533.1 901.16,559.7 901.39,540.3 901.62,563.6 901.84,564.2 902.07,479.0 902.30,561.3 902.52,555.6 902.75,496.8 902.97,547.5 903.20,493.0 903.43,556.4 903.65,489.6 903.88,537.6 904.11,519.2 904.33,468.5 904.56,556.9 904.79,557.7 905.01,519.2 905.24,516.0 905.46,469.2 905.69,519.0 905.92,534.0 906.14,511.4 906.37,557.7 906.60,545.2 906.82,507.9 907.05,500.4 907.27,550.0 907.50,505.7 907.73,555.9 907.95,497.2 908.18,562.5 908.41,544.3 908.63,478.3 908.86,574.1 909.09,491.9 909.31,548.2 909.54,499.5 909.76,546.1 909.99,552.3 910.22,550.6 910.44,533.7 910.67,519.8 910.90,496.1 911.12,474.1 911.35,513.5 911.58,554.0 911.80,554.3 912.03,471.4 912.25,471.0 912.48,471.4 912.71,544.4 912.93,548.5 913.16,529.3 913.39,472.5 913.61,523.0 913.84,548.4 914.06,491.7 914.29,495.1 914.52,480.2 914.74,526.1 914.97,466.4 915.20,550.4 915.42,475.7 915.65,477.9 915.88,528.7 916.10,546.2 916.33,536.1 916.55,562.7 916.78,545.3 917.01,508.0 917.23,529.0 917.46,522.8 917.69,447.3 917.91,467.2 918.14,499.8 918.36,483.1 918.59,419.2 918.82,468.7 919.04,477.9 919.27,541.8 919.50,480.7 919.72,474.3 919.95,466.1 920.18,529.0 920.40,489.5 920.63,475.0 920.85,498.1 921.08,479.6 921.31,482.5 921.53,524.9 921.76,469.9 921.99,489.7 922.21,441.9 922.44,445.8 922.66,492.2 922.89,448.5 923.12,448.8 923.34,471.5 923.57,485.0 923.80,499.3 924.02,478.5 924.25,445.7 924.48,474.5 924.70,480.4 924.93,453.7 925.15,478.4 925.38,541.9 925.61,446.1 925.83,461.4 926.06,536.5 926.29,485.3 926.51,514.0 926.74,450.3 926.96,472.1 927.19,538.4 927.42,495.3 927.64,496.7 927.87,532.0 928.10,519.6 928.32,471.7 928.55,531.4 928.78,532.7 929.00,522.4 929.23,483.1 929.45,528.3 929.68,455.1 929.91,471.9 930.13,458.9 930.36,450.9 930.59,538.6 930.81,490.0 931.04,537.4 931.26,506.1 931.49,451.0 931.72,533.2 931.94,538.1 932.17,534.5 932.40,543.7 932.62,565.5 932.85,510.5 933.08,488.9 933.30,463.3 933.53,485.2 933.75,541.8 933.98,543.3 934.21,544.5 934.43,535.5 934.66,495.1 934.89,478.7 935.11,512.8 935.34,536.1 935.56,530.2 935.79,550.7 936.02,487.8 936.24,476.1 936.47,463.8 936.70,487.3 936.92,462.9 937.15,489.4 937.38,495.8 937.60,480.2 937.83,503.2 938.05,540.3 938.28,450.7 938.51,487.7 938.73,462.7 938.96,542.8 939.19,481.1 939.41,515.3 939.64,520.9 939.86,471.5 940.09,487.7 940.32,481.9 940.54,536.7 940.77,528.1 941.00,508.2 941.22,449.8 941.45,525.6 941.68,449.7 941.90,466.5 942.13,523.7 942.35,501.8 942.58,452.7 942.81,464.6 943.03,484.5 943.26,476.3 943.49,530.6 943.71,533.5 943.94,468.3 944.16,453.5 944.39,451.8 944.62,521.7 944.84,515.5 945.07,451.8 945.30,474.7 945.52,500.7 945.75,535.4 945.98,486.4 946.20,523.8 946.43,527.4 946.65,492.1 946.88,460.3 947.11,456.7 947.33,450.2 947.56,490.6 947.79,490.1 948.01,469.5 948.24,523.5 948.46,470.0 948.69,488.5 948.92,511.7 949.14,512.5 949.37,435.4 949.60,441.5 949.82,443.0 950.05,525.9 950.28,523.3 950.50,462.4 950.73,507.2 950.95,492.7 951.18,483.8 951.41,535.0 951.63,422.8 951.86,507.0 952.09,538.6 952.31,454.5 952.54,471.4 952.76,480.9 952.99,451.6 953.22,534.6 953.44,451.2 953.67,498.0 953.90,532.2 954.12,488.4 954.35,506.4 954.58,471.2 954.80,515.2 955.03,472.2 955.25,439.6 955.48,534.3 955.71,534.0 955.93,439.8 956.16,441.4 956.39,535.3 956.61,533.8 956.84,497.6 957.06,539.1 957.29,450.5 957.52,457.5 957.74,481.5 957.97,460.5 958.20,454.3 958.42,532.6 958.65,504.6 958.88,450.6 959.10,450.9 959.33,533.1 959.55,515.4 959.78,447.4 960.01,552.5 960.23,481.2 960.46,488.7 960.69,451.8 960.91,476.5 961.14,551.9 961.36,453.7 961.59,553.6 961.82,495.3 962.04,451.9 962.27,492.0 962.50,539.9 962.72,435.4 962.95,452.9 963.18,464.5 963.40,537.5 963.63,533.7 963.85,496.5 964.08,495.0 964.31,452.1 964.53,456.9 964.76,460.7 964.99,443.8 965.21,449.0 965.44,485.5 965.67,442.5 965.89,532.2 966.12,505.6 966.34,466.0 966.57,453.1 966.80,533.3 967.02,534.1 967.25,463.1 967.48,455.2 967.70,528.8 967.93,507.8 968.15,449.6 968.38,493.2 968.61,449.7 968.83,518.6 969.06,454.3 969.29,453.5 969.51,517.4 969.74,452.6 969.97,493.1 970.19,509.8 970.42,502.4 970.64,448.7 970.87,526.3 971.10,524.1 971.32,528.1 971.55,527.9 971.78,531.0 972.00,529.5 972.23,493.4 972.45,536.4 972.68,460.1 972.91,526.0 973.13,482.3 973.36,482.2 973.59,447.9 973.81,494.4 974.04,501.8 974.27,458.9 974.49,471.2 974.72,503.0 974.94,447.5 975.17,500.6 975.40,537.5 975.62,487.4 975.85,446.0 976.08,484.1 976.30,541.7 976.53,488.2 976.75,448.1 976.98,511.1 977.21,500.6 977.43,530.1 977.66,527.9 977.89,510.7 978.11,475.8 978.34,442.4 978.57,532.7 978.79,531.9 979.02,464.7 979.24,486.1 979.47,450.6 979.70,449.1 979.92,522.0 980.15,536.7 980.38,490.0 980.60,531.7 980.83,461.3 981.05,504.5 981.28,450.7 981.51,537.0 981.73,489.5 981.96,474.9 982.19,456.5 982.41,532.8 982.64,529.8 982.87,434.6 983.09,432.8 983.32,433.9 983.54,434.3 983.77,467.0 984.00,437.2 984.22,434.5 984.45,515.4 984.68,527.3 984.90,470.5 985.13,437.2 985.35,466.8 985.58,439.3 985.81,440.1 986.03,520.2 986.26,485.0 986.49,497.3 986.71,477.7 986.94,440.7 987.17,527.6 987.39,527.0 987.62,482.1 987.84,430.9 988.07,459.2 988.30,460.2 988.52,480.1 988.75,509.0 988.98,487.2 989.20,485.1 989.43,506.9 989.65,454.8 989.88,436.1 990.11,464.8 990.33,504.1 990.56,538.8 990.79,542.5 991.01,535.6 991.24,434.9 991.47,434.2 991.69,540.4 991.92,455.7 992.14,437.4 992.37,549.8 992.60,439.3 992.82,507.2 993.05,473.7 993.28,533.6 993.50,477.9 993.73,493.8 993.95,484.4 994.18,462.2 994.41,432.7 994.63,528.2 994.86,521.5 995.09,440.7 995.31,432.4 995.54,500.5 995.77,521.9 995.99,521.3 996.22,430.9 996.44,494.2 996.67,468.5 996.90,492.9 997.12,486.1 997.35,453.3 997.58,440.4 997.80,422.8 998.03,463.1 998.25,526.4 998.48,526.0 998.71,448.1 998.93,445.3 999.16,493.0 999.39,501.4 999.61,475.7 999.84,450.0 1000.07,445.8 1000.29,447.0 1000.52,443.6 1000.74,438.4 1000.97,436.4 1001.20,516.6 1001.42,444.2 1001.65,500.9 1001.88,437.1 1002.10,435.7 1002.33,476.3 1002.55,467.7 1002.78,483.1 1003.01,474.6 1003.23,527.3 1003.46,518.7 1003.69,442.3 1003.91,510.9 1004.14,442.1 1004.37,444.9 1004.59,430.9 1004.82,474.4 1005.04,419.2 1005.27,429.3 1005.50,438.4 1005.72,478.8 1005.95,499.8 1006.18,470.1 1006.40,440.8 1006.63,465.3 1006.85,472.2 1007.08,437.5 1007.31,515.7 1007.53,485.8 1007.76,473.1 1007.99,438.6 1008.21,504.0 1008.44,433.5 1008.67,438.0 1008.89,472.8 1009.12,431.5 1009.34,434.1 1009.57,440.2 1009.80,436.7 1010.02,471.7 1010.25,432.3 1010.48,495.8 1010.70,483.0 1010.93,440.3 1011.15,501.8 1011.38,498.1 1011.61,467.3 1011.83,445.2 1012.06,445.7 1012.29,507.1 1012.51,489.3 1012.74,479.1 1012.97,433.0 1013.19,472.1 1013.42,466.7 1013.64,506.4 1013.87,507.3 1014.10,472.6 1014.32,460.5 1014.55,496.9 1014.78,511.1 1015.00,494.7 1015.23,444.5 1015.45,439.3 1015.68,515.8 1015.91,502.9 1016.13,462.6 1016.36,475.9 1016.59,407.6 1016.81,479.7 1017.04,450.8 1017.27,507.8 1017.49,458.4 1017.72,446.5 1017.94,513.2 1018.17,482.5 1018.40,515.5 1018.62,434.2 1018.85,511.2 1019.08,524.8 1019.30,434.6 1019.53,516.5 1019.76,466.0 1019.98,439.1 1020.21,446.1 1020.43,479.0 1020.66,458.2 1020.89,440.2 1021.11,503.7 1021.34,482.5 1021.57,431.8 1021.79,434.8 1022.02,431.3 1022.24,517.6 1022.47,496.8 1022.70,443.2 1022.92,498.9 1023.15,483.8 1023.38,441.5 1023.60,456.7 1023.83,485.2 1024.06,444.8 1024.28,507.2 1024.51,447.8 1024.73,497.0 1024.96,500.8 1025.19,514.3 1025.41,449.4 1025.64,485.3 1025.87,493.8 1026.09,436.6 1026.32,469.3 1026.54,475.7 1026.77,496.0 1027.00,492.9 1027.22,514.1 1027.45,440.3 1027.68,480.5 1027.90,431.8 1028.13,483.6 1028.36,477.3 1028.58,415.0 1028.81,419.1 1029.03,515.1 1029.26,426.8 1029.49,542.9 1029.71,483.3 1029.94,498.2 1030.17,508.8 1030.39,403.5 1030.62,462.6 1030.84,504.0 1031.07,378.8 1031.30,439.3 1031.52,514.0 1031.75,463.5 1031.98,432.8 1032.20,478.5 1032.43,445.4 1032.66,530.6 1032.88,474.0 1033.11,524.2 1033.33,485.8 1033.56,465.4 1033.79,425.5 1034.01,492.9 1034.24,443.2 1034.47,438.6 1034.69,426.7 1034.92,477.6 1035.14,438.6 1035.37,532.5 1035.60,542.3 1035.82,537.3 1036.05,468.9 1036.28,435.6 1036.50,548.9 1036.73,536.5 1036.96,464.5 1037.18,433.9 1037.41,437.0 1037.63,431.4 1037.86,481.9 1038.09,529.1 1038.31,490.3 1038.54,457.0 1038.77,469.2 1038.99,415.6 1039.22,437.0 1039.44,476.7 1039.67,492.3 1039.90,530.9 1040.12,533.8 1040.35,482.5 1040.58,533.0 1040.80,471.9 1041.03,440.8 1041.26,527.7 1041.48,472.7 1041.71,435.7 1041.93,469.5 1042.16,499.8 1042.39,519.9 1042.61,442.9 1042.84,518.5 1043.07,440.6 1043.29,505.4 1043.52,424.9 1043.74,516.2 1043.97,435.6 1044.20,439.0 1044.42,504.8 1044.65,516.0 1044.88,467.7 1045.10,470.5 1045.33,456.4 1045.56,480.5 1045.78,461.2 1046.01,434.9 1046.23,505.9 1046.46,492.4 1046.69,450.2 1046.91,441.3 1047.14,464.0 1047.37,439.2 1047.59,503.1 1047.82,473.7 1048.04,528.3 1048.27,499.8 1048.50,528.5 1048.72,526.9 1048.95,518.4 1049.18,532.2 1049.40,474.4 1049.63,532.9 1049.86,529.5 1050.08,540.5 1050.31,442.3 1050.53,445.3 1050.76,540.9 1050.99,542.4 1051.21,533.3 1051.44,478.0 1051.67,441.2 1051.89,539.5 1052.12,449.1 1052.34,444.5 1052.57,550.7 1052.80,524.4 1053.02,523.5 1053.25,470.9 1053.48,459.0 1053.70,440.4 1053.93,477.1 1054.16,440.8 1054.38,501.6 1054.61,451.7 1054.83,521.2 1055.06,494.0 1055.29,429.1 1055.51,444.4 1055.74,438.3 1055.97,439.9 1056.19,504.1 1056.42,440.9 1056.64,483.1 1056.87,530.7 1057.10,469.9 1057.32,443.2 1057.55,499.5 1057.78,446.7 1058.00,530.1 1058.23,529.2 1058.46,535.4 1058.68,504.6 1058.91,531.0 1059.13,532.1 1059.36,487.7 1059.59,487.5 1059.81,537.4 1060.04,535.7 1060.27,442.8 1060.49,487.9 1060.72,507.1 1060.94,446.3 1061.17,441.5 1061.40,541.6 1061.62,435.1 1061.85,437.2 1062.08,438.9 1062.30,449.8 1062.53,499.7 1062.76,540.7 1062.98,500.0 1063.21,443.5 1063.43,539.1 1063.66,444.3 1063.89,531.6 1064.11,527.0 1064.34,547.9 1064.57,526.3 1064.79,443.8 1065.02,415.0 1065.24,543.1 1065.47,549.9 1065.70,532.9 1065.92,507.1 1066.15,470.3 1066.38,451.5 1066.60,538.4 1066.83,538.9 1067.06,451.9 1067.28,568.0 1067.51,555.3 1067.73,526.6 1067.96,473.4 1068.19,435.4 1068.41,559.1 1068.64,545.0 1068.87,551.2 1069.09,443.9 1069.32,511.6 1069.55,445.1 1069.77,542.1 1070.00,440.3 1070.22,513.8 1070.45,542.6 1070.68,450.9 1070.90,542.0 1071.13,551.1 1071.36,497.6 1071.58,450.7 1071.81,527.6 1072.03,557.4 1072.26,456.0 1072.49,548.1 1072.71,539.3 1072.94,554.6 1073.17,459.8 1073.39,544.4 1073.62,550.8 1073.85,538.5 1074.07,541.3 1074.30,547.7 1074.52,477.2 1074.75,438.8 1074.98,541.6 1075.20,439.8 1075.43,450.8 1075.66,512.4 1075.88,541.1 1076.11,424.8 1076.33,489.1 1076.56,538.7 1076.79,541.3 1077.01,510.6 1077.24,528.5 1077.47,544.5 1077.69,490.7 1077.92,557.2 1078.15,553.5 1078.37,526.8 1078.60,547.7 1078.82,548.7 1079.05,551.9 1079.28,550.7 1079.50,546.5 1079.73,465.5 1079.96,544.8 1080.18,477.3 1080.41,547.2 1080.63,464.0 1080.86,497.4 1081.09,542.0 1081.31,501.0 1081.54,494.3 1081.77,515.4 1081.99,542.6 1082.22,461.6 1082.45,459.2 1082.67,503.8 1082.90,502.5 1083.12,486.8 1083.35,461.5 1083.58,460.8 1083.80,541.8 1084.03,466.8 1084.26,552.6 1084.48,546.4 1084.71,550.6 1084.93,462.7 1085.16,548.2 1085.39,471.1 1085.61,547.0 1085.84,546.3 1086.07,462.4 1086.29,518.3 1086.52,536.5 1086.75,465.4 1086.97,467.9 1087.20,506.2 1087.42,512.2 1087.65,510.4 1087.88,469.7 1088.10,467.9 1088.33,472.5 1088.56,511.8 1088.78,470.1 1089.01,505.0 1089.23,472.3 1089.46,561.8 1089.69,503.5 1089.91,552.9 1090.14,468.3 1090.37,460.8 1090.59,535.9 1090.82,465.0 1091.05,459.6 1091.27,481.0 1091.50,450.0 1091.72,553.7 1091.95,532.3 1092.18,554.6 1092.40,460.4 1092.63,470.0 1092.86,519.1 1093.08,554.2 1093.31,467.1 1093.53,467.6 1093.76,539.1 1093.99,479.7 1094.21,477.4 1094.44,533.1 1094.67,465.6 1094.89,485.1 1095.12,471.5 1095.35,478.0 1095.57,474.6 1095.80,567.6 1096.02,569.1 1096.25,521.6 1096.48,491.1 1096.70,466.7 1096.93,563.8 1097.16,469.9 1097.38,473.2 1097.61,578.8 1097.83,491.7 1098.06,462.4 1098.29,459.0 1098.51,434.7 1098.74,551.5 1098.97,474.6 1099.19,475.7 1099.42,562.9 1099.65,568.6 1099.87,557.9 1100.10,497.7 1100.32,562.1 1100.55,523.2 1100.78,472.9 1101.00,526.4 1101.23,475.4 1101.46,511.9 1101.68,570.8 1101.91,531.6 1102.13,563.7 1102.36,473.9 1102.59,505.1 1102.81,520.2 1103.04,558.2 1103.27,554.9 1103.49,531.0 1103.72,471.0 1103.95,504.6 1104.17,475.9 1104.40,534.9 1104.62,514.9 1104.85,480.9 1105.08,529.8 1105.30,556.5 1105.53,481.8 1105.76,557.4 1105.98,479.4 1106.21,542.3 1106.43,466.0 1106.66,441.0 1106.89,453.8 1107.11,540.7 1107.34,517.2 1107.57,487.8 1107.79,528.8 1108.02,522.0 1108.25,549.6 1108.47,556.2 1108.70,562.1 1108.92,491.7 1109.15,533.7 1109.38,472.4 1109.60,472.5 1109.83,474.5 1110.06,508.1 1110.28,570.7 1110.51,560.8 1110.73,476.7 1110.96,564.1 1111.19,528.1 1111.41,491.4 1111.64,564.4 1111.87,562.9 1112.09,483.8 1112.32,554.0 1112.55,566.1 1112.77,532.5 1113.00,568.9 1113.22,490.7 1113.45,488.9 1113.68,491.2 1113.90,487.8 1114.13,530.7 1114.36,513.2 1114.58,570.2 1114.81,567.3 1115.03,481.9 1115.26,484.3 1115.49,523.5 1115.71,578.8 1115.94,554.3 1116.17,470.9 1116.39,507.9 1116.62,572.2 1116.85,483.1 1117.07,568.6 1117.30,533.4 1117.52,478.2 1117.75,496.6 1117.98,481.1 1118.20,565.2 1118.43,552.0 1118.66,480.6 1118.88,548.2 1119.11,478.3 1119.33,552.6 1119.56,524.1 1119.79,475.0 1120.01,519.0 1120.24,498.0 1120.47,567.4 1120.69,567.0 1120.92,570.4 1121.15,467.0 1121.37,529.7 1121.60,569.8 1121.82,573.9 1122.05,544.8 1122.28,576.5 1122.50,577.8 1122.73,575.7 1122.96,572.7 1123.18,491.8 1123.41,534.0 1123.64,574.2 1123.86,488.0 1124.09,480.4 1124.31,481.9 1124.54,541.1 1124.77,582.8 1124.99,576.9 1125.22,490.7 1125.45,485.6 1125.67,525.4 1125.90,516.0 1126.12,575.4 1126.35,533.7 1126.58,574.0 1126.80,499.0 1127.03,508.6 1127.26,571.2 1127.48,528.1 1127.71,523.2 1127.94,546.2 1128.16,542.8 1128.39,585.0 1128.61,481.9 1128.84,572.4 1129.07,519.2 1129.29,468.0 1129.52,580.5 1129.75,482.9 1129.97,566.4 1130.20,575.9 1130.42,579.3 1130.65,487.9 1130.88,559.7 1131.10,579.6 1131.33,536.3 1131.56,538.1 1131.78,587.0 1132.01,554.5 1132.24,544.4 1132.46,522.7 1132.69,491.9 1132.91,586.3 1133.14,587.6 1133.37,489.0 1133.59,582.7 1133.82,542.8 1134.05,535.1 1134.27,530.6 1134.50,546.9 1134.72,553.6 1134.95,558.2 1135.18,555.3 1135.40,530.7 1135.63,576.7 1135.86,497.8 1136.08,500.8 1136.31,559.5 1136.54,499.1 1136.76,521.0 1136.99,579.4 1137.21,563.4 1137.44,561.8 1137.67,492.9 1137.89,496.6 1138.12,553.7 1138.35,580.0 1138.57,495.7 1138.80,584.7 1139.02,552.9 1139.25,517.0 1139.48,590.5 1139.70,492.9 1139.93,592.5 1140.16,490.6 1140.38,489.7 1140.61,482.4 1140.84,576.3 1141.06,533.5 1141.29,524.5 1141.51,519.7 1141.74,537.8 1141.97,583.4 1142.19,530.6 1142.42,578.4 1142.65,559.0 1142.87,570.1 1143.10,544.3 1143.32,515.2 1143.55,563.3 1143.78,517.6 1144.00,584.8 1144.23,486.0 1144.46,597.6 1144.68,520.3 1144.91,524.3 1145.14,556.0 1145.36,452.7 1145.59,504.9 1145.81,503.3 1146.04,486.0 1146.27,484.5 1146.49,584.5 1146.72,585.4 1146.95,530.3 1147.17,586.7 1147.40,488.7 1147.62,582.4 1147.85,483.8 1148.08,552.4 1148.30,528.8 1148.53,561.0 1148.76,493.7 1148.98,529.6 1149.21,530.2 1149.44,539.9 1149.66,543.3 1149.89,552.7 1150.11,564.9 1150.34,541.1 1150.57,510.9 1150.79,571.2 1151.02,534.5 1151.25,516.1 1151.47,577.5 1151.70,552.7 1151.92,573.8 1152.15,515.3 1152.38,559.3 1152.60,543.8 1152.83,554.9 1153.06,517.3 1153.28,558.3 1153.51,563.6 1153.74,557.7 1153.96,582.6 1154.19,506.2 1154.41,539.8 1154.64,576.2 1154.87,516.5 1155.09,562.6 1155.32,579.5 1155.55,542.7 1155.77,579.1 1156.00,563.8 1156.22,552.4 1156.45,562.5 1156.68,557.7 1156.90,539.4 1157.13,556.0 1157.36,568.7 1157.58,585.3 1157.81,561.0 1158.04,590.2 1158.26,581.0 1158.49,552.7 1158.71,550.5 1158.94,517.0 1159.17,538.4 1159.39,586.2 1159.62,577.8 1159.85,517.2 1160.07,538.5 1160.30,557.1 1160.52,561.6 1160.75,529.9 1160.98,524.2 1161.20,589.1 1161.43,603.0 1161.66,598.0 1161.88,536.0 1162.11,556.9 1162.34,590.6 1162.56,591.2 1162.79,586.6 1163.01,544.0 1163.24,502.0 1163.47,583.0 1163.69,581.2 1163.92,528.6 1164.15,548.3 1164.37,542.2 1164.60,582.5 1164.82,586.0 1165.05,549.3 1165.28,591.7 1165.50,587.9 1165.73,566.3 1165.96,508.5 1166.18,588.0 1166.41,567.0 1166.64,566.7 1166.86,602.4 1167.09,549.0 1167.31,531.8 1167.54,598.9 1167.77,592.1 1167.99,584.1 1168.22,599.9 1168.45,598.6 1168.67,571.9 1168.90,550.4 1169.12,589.9 1169.35,565.5 1169.58,565.3 1169.80,607.0 1170.03,603.2 1170.26,535.8 1170.48,569.0 1170.71,609.7 1170.94,612.7 1171.16,574.8 1171.39,642.6 1171.61,504.9 1171.84,505.3 1172.07,581.3 1172.29,546.5 1172.52,616.3 1172.75,555.6 1172.97,536.3 1173.20,609.7 1173.42,523.9 1173.65,593.9 1173.88,581.3 1174.10,598.1 1174.33,559.1 1174.56,585.9 1174.78,559.8 1175.01,599.5 1175.24,589.0 1175.46,552.4 1175.69,566.1 1175.91,523.8 1176.14,590.5 1176.37,564.9 1176.59,594.0 1176.82,602.0 1177.05,551.5 1177.27,561.7 1177.50,515.5 1177.73,503.9 1177.95,600.6 1178.18,513.0 1178.40,555.5 1178.63,578.6 1178.86,562.5 1179.08,516.8 1179.31,578.5 1179.54,604.3 1179.76,534.8 1179.99,608.4 1180.21,523.3 1180.44,567.6 1180.67,591.0 1180.89,523.6 1181.12,581.8 1181.35,537.9 1181.57,521.8 1181.80,595.9 1182.03,568.2 1182.25,601.1 1182.48,545.7 1182.70,585.6 1182.93,521.1 1183.16,519.8 1183.38,613.1 1183.61,522.7 1183.84,522.5 1184.06,630.0 1184.29,526.2 1184.51,523.2 1184.74,522.4 1184.97,526.2 1185.19,619.4 1185.42,532.7 1185.65,531.2 1185.87,620.3 1186.10,547.0 1186.33,627.7 1186.55,529.7 1186.78,604.1 1187.00,621.2 1187.23,591.8 1187.46,532.6 1187.68,587.6 1187.91,533.4 1188.14,539.5 1188.36,595.6 1188.59,573.6 1188.81,539.0 1189.04,539.7 1189.27,567.8 1189.49,516.5 1189.72,586.5 1189.95,592.3 1190.17,559.9 1190.40,584.7 1190.63,605.7 1190.85,541.8 1191.08,585.5 1191.30,581.9 1191.53,576.5 1191.76,601.4 1191.98,584.7 1192.21,571.1 1192.44,562.9 1192.66,537.0 1192.89,600.8 1193.11,569.1 1193.34,588.3 1193.57,532.0 1193.79,531.6 1194.02,537.4 1194.25,555.6 1194.47,571.1 1194.70,606.1 1194.93,560.4 1195.15,539.7 1195.38,612.3 1195.60,558.2 1195.83,540.2 1196.06,603.8 1196.28,552.4 1196.51,614.7 1196.74,582.7 1196.96,541.2 1197.19,549.9 1197.41,565.7 1197.64,571.2 1197.87,568.5 1198.09,585.2 1198.32,521.9 1198.55,587.0 1198.77,542.4 1199.00,613.5 1199.23,616.3 1199.45,612.0 1199.68,616.0 1199.90,581.0 1200.13,561.7 1200.36,595.1 1200.58,553.5 1200.81,578.8 1201.04,613.9 1201.26,540.1 1201.49,548.2 1201.71,537.6 1201.94,550.1 1202.17,545.9 1202.39,541.8 1202.62,553.7 1202.85,594.4 1203.07,581.1 1203.30,609.7 1203.53,614.3 1203.75,552.3 1203.98,619.2 1204.20,584.6 1204.43,550.1 1204.66,612.8 1204.88,613.2 1205.11,615.7 1205.34,611.5 1205.56,626.4 1205.79,587.7 1206.01,618.1 1206.24,573.4 1206.47,582.7 1206.69,596.9 1206.92,576.1 1207.15,586.5 1207.37,601.3 1207.60,593.5 1207.83,595.1 1208.05,608.9 1208.28,556.3 1208.50,566.6 1208.73,612.1 1208.96,589.8 1209.18,609.8 1209.41,569.0 1209.64,611.5 1209.86,586.9 1210.09,576.4 1210.31,605.1 1210.54,615.1 1210.77,615.7 1210.99,575.8 1211.22,612.9 1211.45,618.2 1211.67,605.0 1211.90,615.5 1212.13,577.6 1212.35,624.5 1212.58,616.4 1212.80,641.7 1213.03,615.1 1213.26,620.9 1213.48,546.2 1213.71,556.7 1213.94,545.0 1214.16,606.8 1214.39,587.3 1214.61,581.8 1214.84,618.8 1215.07,612.0 1215.29,612.5 1215.52,583.5 1215.75,566.8 1215.97,568.4 1216.20,621.1 1216.43,556.2 1216.65,544.8 1216.88,619.5 1217.10,561.4 1217.33,620.1 1217.56,586.5 1217.78,583.5 1218.01,545.5 1218.24,507.5 1218.46,612.3 1218.69,554.0 1218.91,600.4 1219.14,615.2 1219.37,553.2 1219.59,584.0 1219.82,587.0 1220.05,614.8 1220.27,616.5 1220.50,617.3 1220.73,619.7 1220.95,611.3 1221.18,535.6 1221.40,540.7 1221.63,542.5 1221.86,539.3 1222.08,608.1 1222.31,535.6 1222.54,558.7 1222.76,606.9 1222.99,544.7 1223.21,607.9 1223.44,583.9 1223.67,606.3 1223.89,547.5 1224.12,607.1 1224.35,546.6 1224.57,611.3 1224.80,607.8 1225.03,568.9 1225.25,548.7 1225.48,596.7 1225.70,554.3 1225.93,540.6 1226.16,575.0 1226.38,551.6 1226.61,587.9 1226.84,538.3 1227.06,635.4 1227.29,596.9 1227.52,622.1 1227.74,541.0 1227.97,536.7 1228.19,626.5 1228.42,616.5 1228.65,534.8 1228.87,534.4 1229.10,531.7 1229.33,588.1 1229.55,612.9 1229.78,572.4 1230.00,597.0 1230.23,627.1 1230.46,621.1 1230.68,597.8 1230.91,618.0 1231.14,591.6 1231.36,623.2 1231.59,630.6 1231.82,630.3 1232.04,587.5 1232.27,549.2 1232.49,628.9 1232.72,631.1 1232.95,633.1 1233.17,584.7 1233.40,624.7 1233.63,635.5 1233.85,626.3 1234.08,533.0 1234.30,621.6 1234.53,610.1 1234.76,533.7 1234.98,534.5 1235.21,628.4 1235.44,562.7 1235.66,588.6 1235.89,539.9 1236.12,644.4 1236.34,539.3 1236.57,592.1 1236.79,630.8 1237.02,622.6 1237.25,564.7 1237.47,549.4 1237.70,584.0 1237.93,626.9 1238.15,573.8 1238.38,597.9 1238.60,622.8 1238.83,614.2 1239.06,580.1 1239.28,619.8 1239.51,622.3 1239.74,620.8 1239.96,540.1 1240.19,545.0 1240.42,609.1 1240.64,574.6 1240.87,609.9 1241.09,609.0 1241.32,608.2 1241.55,585.4 1241.77,605.7 1242.00,611.1 1242.23,610.6 1242.45,608.6 1242.68,613.5 1242.90,610.9 1243.13,607.6 1243.36,608.1 1243.58,592.4 1243.81,592.7 1244.04,578.8 1244.26,566.8 1244.49,589.2 1244.72,597.8 1244.94,565.3 1245.17,601.2 1245.39,598.4 1245.62,541.9 1245.85,541.3 1246.07,542.4 1246.30,561.6 1246.53,573.1 1246.75,590.0 1246.98,587.5 1247.20,592.5 1247.43,585.0 1247.66,558.5 1247.88,589.3 1248.11,571.5 1248.34,613.2 1248.56,577.3 1248.79,621.9 1249.02,550.3 1249.24,589.0 1249.47,568.9 1249.69,587.0 1249.92,569.8 1250.15,610.0 1250.37,607.5 1250.60,610.1 1250.83,569.6 1251.05,588.4 1251.28,580.3 1251.50,614.2 1251.73,616.3 1251.96,567.4 1252.18,610.5 1252.41,578.3 1252.64,615.1 1252.86,611.3 1253.09,543.3 1253.32,568.8 1253.54,540.7 1253.77,609.1 1253.99,541.7 1254.22,565.1 1254.45,579.8 1254.67,615.0 1254.90,554.5 1255.13,530.0 1255.35,539.8 1255.58,538.3 1255.80,562.8 1256.03,566.7 1256.26,612.1 1256.48,534.6 1256.71,540.9 1256.94,562.5 1257.16,538.1 1257.39,540.8 1257.62,523.6 1257.84,586.3 1258.07,542.4 1258.29,549.8 1258.52,590.3 1258.75,583.5 1258.97,542.7 1259.20,577.0 1259.43,537.5 1259.65,557.0 1259.88,536.6 1260.10,534.4 1260.33,537.0 1260.56,541.5 1260.78,543.1 1261.01,555.3 1261.24,604.5 1261.46,574.2 1261.69,587.5 1261.92,543.6 1262.14,569.5 1262.37,541.6 1262.59,543.3 1262.82,543.3 1263.05,548.1 1263.27,543.1 1263.50,544.1 1263.73,539.2 1263.95,521.0 1264.18,616.7 1264.40,537.3 1264.63,533.7 1264.86,570.7 1265.08,626.6 1265.31,624.4 1265.54,544.8 1265.76,576.3 1265.99,600.1 1266.22,606.0 1266.44,569.5 1266.67,619.0 1266.89,617.1 1267.12,552.3 1267.35,572.7 1267.57,593.8 1267.80,587.5 1268.03,579.7 1268.25,618.8 1268.48,591.0 1268.70,567.7 1268.93,615.3 1269.16,618.4 1269.38,576.0 1269.61,547.6 1269.84,544.8 1270.06,603.2 1270.29,543.9 1270.52,550.4 1270.74,538.0 1270.97,543.3 1271.19,634.5 1271.42,548.6 1271.65,579.4 1271.87,553.4 1272.10,602.4 1272.33,544.2 1272.55,597.5 1272.78,570.7 1273.00,552.2 1273.23,564.8 1273.46,626.8 1273.68,587.5 1273.91,545.7 1274.14,540.8 1274.36,544.3 1274.59,623.4 1274.82,609.3 1275.04,556.4 1275.27,595.0 1275.49,538.0 1275.72,621.4 1275.95,629.7 1276.17,630.1 1276.40,543.2 1276.63,536.0 1276.85,544.4 1277.08,531.8 1277.30,529.9 1277.53,515.6 1277.76,588.4 1277.98,528.0 1278.21,620.1 1278.44,619.3 1278.66,545.1 1278.89,616.4 1279.12,587.7 1279.34,614.4 1279.57,525.1 1279.79,531.0 1280.02,571.5 1280.25,560.7 1280.47,564.6 1280.70,533.6 1280.93,606.2 1281.15,571.2 1281.38,605.6 1281.61,604.1 1281.83,604.2 1282.06,557.4 1282.28,569.9 1282.51,589.0 1282.74,608.9 1282.96,606.0 1283.19,577.3 1283.42,551.5 1283.64,604.2 1283.87,568.2 1284.09,608.0 1284.32,545.2 1284.55,564.5 1284.77,618.3 1285.00,564.9 1285.23,557.9 1285.45,536.4 1285.68,588.0 1285.91,564.2 1286.13,534.7 1286.36,542.6 1286.58,608.1 1286.81,584.7 1287.04,536.0 1287.26,563.1 1287.49,540.5 1287.72,538.1 1287.94,557.6 1288.17,546.4 1288.39,599.1 1288.62,550.9 1288.85,599.4 1289.07,567.0 1289.30,594.8 1289.53,550.9 1289.75,526.2 1289.98,522.8 1290.21,549.4 1290.43,592.6 1290.66,527.2 1290.88,515.1 1291.11,544.2 1291.34,514.8 1291.56,573.0 1291.79,579.4 1292.02,602.7 1292.24,601.6 1292.47,503.0 1292.69,605.4 1292.92,557.5 1293.15,558.6 1293.37,563.1 1293.60,532.0 1293.83,529.6 1294.05,542.1 1294.28,594.5 1294.51,536.1 1294.73,580.0 1294.96,584.4 1295.18,599.4 1295.41,534.5 1295.64,559.8 1295.86,586.3 1296.09,556.5 1296.32,567.9 1296.54,523.6 1296.77,518.2 1296.99,518.4 1297.22,521.4 1297.45,571.0 1297.67,516.3 1297.90,599.0 1298.13,599.7 1298.35,599.5 1298.58,600.5 1298.81,512.2 1299.03,558.4 1299.26,524.3 1299.48,579.3 1299.71,549.8 1299.94,576.0 1300.16,541.1 1300.39,564.1 1300.62,528.1 1300.84,608.7 1301.07,528.6 1301.29,546.1 1301.52,602.8 1301.75,604.0 1301.97,530.4 1302.20,513.2 1302.43,533.7 1302.65,601.3 1302.88,514.2 1303.11,539.3 1303.33,557.0 1303.56,583.3 1303.78,562.9 1304.01,575.3 1304.24,560.7 1304.46,600.3 1304.69,584.1 1304.92,562.7 1305.14,510.9 1305.37,598.6 1305.59,597.8 1305.82,599.5 1306.05,530.7 1306.27,506.6 1306.50,540.9 1306.73,552.1 1306.95,596.4 1307.18,536.2 1307.41,585.9 1307.63,549.1 1307.86,519.1 1308.08,598.5 1308.31,537.6 1308.54,548.4 1308.76,545.3 1308.99,544.1 1309.22,596.6 1309.44,490.8 1309.67,571.9 1309.89,470.6 1310.12,588.3 1310.35,534.0 1310.57,580.0 1310.80,505.2 1311.03,597.1 1311.25,570.1 1311.48,491.0 1311.71,490.2 1311.93,554.2 1312.16,499.2 1312.38,525.7 1312.61,586.5 1312.84,556.1 1313.06,504.3 1313.29,586.8 1313.52,514.8 1313.74,534.9 1313.97,571.5 1314.19,580.3 1314.42,582.1 1314.65,582.6 1314.87,513.0 1315.10,581.6 1315.33,506.8 1315.55,502.3 1315.78,562.8 1316.01,552.4 1316.23,551.3 1316.46,498.6 1316.68,495.3 1316.91,497.6 1317.14,547.4 1317.36,554.2 1317.59,498.5 1317.82,494.8 1318.04,493.4 1318.27,497.5 1318.49,545.0 1318.72,499.3 1318.95,538.4 1319.17,537.2 1319.40,581.3 1319.63,491.0 1319.85,541.6 1320.08,486.7 1320.31,587.8 1320.53,485.0 1320.76,589.9 1320.98,496.0 1321.21,526.0 1321.44,538.1 1321.66,496.6 1321.89,494.9 1322.12,495.7 1322.34,501.8 1322.57,550.7 1322.79,500.8 1323.02,538.6 1323.25,533.0 1323.47,516.8 1323.70,548.1 1323.93,511.5 1324.15,493.5 1324.38,520.4 1324.61,580.6 1324.83,521.1 1325.06,492.0 1325.28,494.7 1325.51,537.9 1325.74,501.3 1325.96,564.8 1326.19,499.9 1326.42,555.2 1326.64,504.4 1326.87,534.3 1327.09,541.9 1327.32,592.6 1327.55,553.8 1327.77,511.0 1328.00,508.6 1328.23,599.3 1328.45,494.4 1328.68,480.5 1328.91,553.1 1329.13,527.1 1329.36,508.1 1329.58,524.2 1329.81,567.3 1330.04,591.8 1330.26,591.5 1330.49,594.7 1330.72,500.7 1330.94,590.0 1331.17,500.5 1331.39,530.1 1331.62,496.9 1331.85,596.2 1332.07,547.2 1332.30,496.7 1332.53,491.5 1332.75,486.3 1332.98,487.2 1333.21,609.3 1333.43,512.2 1333.66,592.2 1333.88,556.5 1334.11,589.2 1334.34,500.0 1334.56,501.0 1334.79,542.9 1335.02,533.2 1335.24,565.5 1335.47,557.6 1335.70,596.0 1335.92,505.3 1336.15,565.9 1336.37,594.2 1336.60,503.1 1336.83,559.5 1337.05,590.5 1337.28,553.3 1337.51,592.1 1337.73,552.3 1337.96,582.1 1338.18,548.7 1338.41,523.7 1338.64,494.0 1338.86,509.6 1339.09,574.2 1339.32,575.4 1339.54,562.1 1339.77,530.0 1340.00,582.1 1340.22,571.4 1340.45,549.9 1340.67,577.4 1340.90,582.4 1341.13,579.0 1341.35,573.3 1341.58,528.1 1341.81,544.5 1342.03,540.8 1342.26,574.6 1342.48,545.9 1342.71,570.0 1342.94,524.9 1343.16,563.7 1343.39,576.8 1343.62,523.6 1343.84,499.8 1344.07,485.0 1344.30,568.4 1344.52,600.3 1344.75,560.0 1344.97,530.7 1345.20,485.2 1345.43,579.8 1345.65,583.0 1345.88,494.2 1346.11,524.9 1346.33,558.4 1346.56,545.6 1346.78,543.2 1347.01,582.8 1347.24,585.3 1347.46,579.4 1347.69,557.1 1347.92,501.4 1348.14,506.6 1348.37,560.0 1348.60,585.0 1348.82,580.3 1349.05,499.7 1349.27,557.1 1349.50,525.9 1349.73,530.8 1349.95,578.4 1350.18,489.4 1350.41,509.9 1350.63,578.2 1350.86,571.5 1351.08,582.6 1351.31,582.8 1351.54,530.8 1351.76,536.1 1351.99,535.0 1352.22,490.6 1352.44,585.6 1352.67,540.3 1352.90,542.1 1353.12,505.4 1353.35,547.3 1353.57,561.9 1353.80,544.0 1354.03,536.9 1354.25,484.9 1354.48,542.2 1354.71,452.7 1354.93,512.9 1355.16,488.5 1355.38,484.8 1355.61,507.0 1355.84,510.5 1356.06,529.9 1356.29,536.3 1356.52,520.9 1356.74,529.2 1356.97,510.5 1357.20,502.6 1357.42,498.0 1357.65,484.1 1357.87,563.4 1358.10,470.3 1358.33,546.6 1358.55,545.7 1358.78,513.4 1359.01,471.6 1359.23,569.9 1359.46,507.3 1359.68,568.2 1359.91,514.4 1360.14,517.6 1360.36,481.1 1360.59,521.2 1360.82,503.7 1361.04,505.8 1361.27,566.0 1361.50,573.9 1361.72,538.3 1361.95,555.2 1362.17,515.3 1362.40,483.1 1362.63,530.4 1362.85,561.0 1363.08,535.5 1363.31,490.8 1363.53,556.4 1363.76,576.0 1363.98,539.8 1364.21,485.1 1364.44,484.2 1364.66,567.4 1364.89,513.9 1365.12,566.3 1365.34,513.7 1365.57,536.5 1365.80,482.9 1366.02,483.0 1366.25,512.6 1366.47,486.7 1366.70,530.4 1366.93,487.9 1367.15,570.5 1367.38,575.2 1367.61,492.1 1367.83,509.9 1368.06,492.6 1368.28,568.3 1368.51,573.6 1368.74,507.0 1368.96,526.4 1369.19,480.3 1369.42,479.3 1369.64,480.7 1369.87,494.7 1370.10,476.4 1370.32,477.8 1370.55,472.5 1370.77,504.3 1371.00,473.3 1371.23,577.0 1371.45,575.1 1371.68,577.1 1371.91,541.0 1372.13,476.6 1372.36,483.1 1372.58,568.3 1372.81,568.1 1373.04,572.1 1373.26,556.9 1373.49,545.7 1373.72,479.4 1373.94,482.8 1374.17,567.1 1374.40,500.1 1374.62,528.7 1374.85,487.8 1375.07,543.9 1375.30,566.7 1375.53,564.4 1375.75,481.0 1375.98,541.8 1376.21,480.0 1376.43,552.2 1376.66,564.3 1376.88,546.2 1377.11,558.8 1377.34,535.3 1377.56,570.8 1377.79,490.2 1378.02,588.6 1378.24,572.2 1378.47,560.4 1378.70,487.7 1378.92,567.2 1379.15,526.6 1379.37,492.5 1379.60,521.0 1379.83,523.3 1380.05,493.0 1380.28,552.6 1380.51,519.1 1380.73,559.5 1380.96,545.7 1381.18,560.3 1381.41,488.9 1381.64,560.2 1381.86,488.5 1382.09,506.1 1382.32,533.2 1382.54,534.2 1382.77,483.6 1383.00,480.8 1383.22,479.1 1383.45,552.8 1383.67,480.8 1383.90,508.8 1384.13,489.1 1384.35,561.1 1384.58,487.4 1384.81,480.3 1385.03,495.9 1385.26,529.3 1385.48,484.6 1385.71,481.5 1385.94,514.6 1386.16,524.0 1386.39,488.5 1386.62,482.4 1386.84,503.3 1387.07,486.8 1387.30,567.2 1387.52,524.9 1387.75,525.2 1387.97,472.4 1388.20,563.1 1388.43,560.0 1388.65,560.3 1388.88,459.0 1389.11,475.3 1389.33,474.3 1389.56,489.9 1389.79,522.9 1390.01,542.3 1390.24,500.7 1390.46,555.6 1390.69,559.7 1390.92,557.0 1391.14,561.1 1391.37,484.2 1391.60,530.8 1391.82,563.8 1392.05,504.1 1392.27,519.4 1392.50,516.2 1392.73,481.1 1392.95,517.1 1393.18,559.0 1393.41,560.2 1393.63,467.7 1393.86,566.2 1394.09,474.1 1394.31,483.9 1394.54,564.7 1394.76,563.2 1394.99,558.1 1395.22,504.1 1395.44,566.7 1395.67,511.2 1395.90,506.1 1396.12,571.6 1396.35,475.4 1396.57,489.9 1396.80,471.5 1397.03,554.1 1397.25,557.6 1397.48,546.5 1397.71,510.4 1397.93,523.8 1398.16,549.5 1398.39,469.2 1398.61,507.0 1398.84,563.5 1399.06,480.3 1399.29,560.1 1399.52,528.6 1399.74,522.5 1399.97,520.6 1400.20,502.0 1400.42,561.1 1400.65,502.2 1400.87,498.1 1401.10,511.9 1401.33,554.7 1401.55,488.4 1401.78,476.8 1402.01,474.9 1402.23,559.1 1402.46,469.6 1402.69,558.4 1402.91,492.9 1403.14,469.6 1403.36,465.7 1403.59,469.4 1403.82,492.0 1404.04,466.9 1404.27,462.4 1404.50,531.7 1404.72,494.6 1404.95,501.5 1405.17,464.5 1405.40,493.4 1405.63,528.2 1405.85,547.1 1406.08,527.6 1406.31,553.9 1406.53,460.7 1406.76,527.5 1406.99,460.0 1407.21,495.6 1407.44,540.8 1407.66,477.0 1407.89,505.5 1408.12,458.0 1408.34,535.9 1408.57,514.0 1408.80,450.5 1409.02,520.8 1409.25,476.9 1409.47,516.7 1409.70,437.4 1409.93,504.2 1410.15,481.2 1410.38,480.7 1410.61,504.9 1410.83,520.6 1411.06,463.9 1411.29,479.7 1411.51,491.3 1411.74,473.3 1411.96,518.0 1412.19,530.4 1412.42,518.8 1412.64,522.1 1412.87,545.7 1413.10,459.6 1413.32,506.0 1413.55,532.0 1413.77,459.8 1414.00,479.8 1414.23,510.0 1414.45,471.4 1414.68,474.0 1414.91,511.8 1415.13,490.5 1415.36,472.2 1415.59,476.9 1415.81,511.7 1416.04,475.9 1416.26,504.6 1416.49,484.2 1416.72,486.6 1416.94,478.0 1417.17,480.0 1417.40,538.3 1417.62,488.5 1417.85,519.7 1418.07,543.8 1418.30,552.6 1418.53,472.5 1418.75,472.5 1418.98,506.6 1419.21,471.7 1419.43,541.8 1419.66,547.4 1419.89,470.8 1420.11,556.7 1420.34,544.9 1420.56,541.8 1420.79,473.0 1421.02,478.9 1421.24,454.5 1421.47,468.6 1421.70,557.3 1421.92,518.3 1422.15,557.3 1422.37,484.0 1422.60,544.5 1422.83,513.8 1423.05,481.0 1423.28,566.7 1423.51,565.8 1423.73,479.0 1423.96,458.0 1424.19,568.2 1424.41,470.3 1424.64,485.1 1424.86,612.0 1425.09,480.7 1425.32,557.4 1425.54,561.5 1425.77,544.0 1426.00,528.6 1426.22,567.2 1426.45,477.0 1426.67,475.9 1426.90,568.8 1427.13,552.9 1427.35,530.4 1427.58,480.9 1427.81,545.0 1428.03,558.6 1428.26,483.1 1428.49,480.0 1428.71,516.4 1428.94,482.8 1429.16,556.5 1429.39,557.6 1429.62,480.1 1429.84,471.7 1430.07,479.3 1430.30,473.1 1430.52,472.7 1430.75,467.5 1430.97,470.0 1431.20,484.8 1431.43,479.4 1431.65,467.5 1431.88,473.3 1432.11,532.2 1432.33,482.7 1432.56,492.0 1432.79,509.0 1433.01,453.6 1433.24,473.8 1433.46,503.7 1433.69,497.4 1433.92,524.4 1434.14,478.8 1434.37,525.3 1434.60,488.2 1434.82,531.4 1435.05,472.1 1435.27,524.4 1435.50,504.4 1435.73,472.2 1435.95,459.0 1436.18,482.3 1436.41,530.0 1436.63,540.5 1436.86,498.0 1437.09,541.8 1437.31,537.7 1437.54,479.1 1437.76,543.6 1437.99,537.8 1438.22,540.4 1438.44,480.6 1438.67,475.8 1438.90,469.2 1439.12,526.0 1439.35,466.8 1439.58,544.4 1439.80,545.6 1440.03,478.6 1440.25,473.5 1440.48,525.4 1440.71,516.3 1440.93,557.9 1441.16,472.2 1441.39,526.7 1441.61,486.2 1441.84,473.5 1442.06,470.2 1442.29,555.6 1442.52,475.7 1442.74,451.8 1442.97,509.2 1443.20,574.3 1443.42,467.1 1443.65,536.5 1443.88,499.4 1444.10,519.4 1444.33,488.2 1444.55,481.8 1444.78,519.0 1445.01,529.8 1445.23,484.6 1445.46,504.2 1445.69,550.2 1445.91,458.0 1446.14,473.8 1446.36,469.8 1446.59,470.4 1446.82,524.4 1447.04,467.5 1447.27,549.5 1447.50,472.3 1447.72,550.3 1447.95,468.2 1448.18,475.0 1448.40,494.7 1448.63,524.2 1448.85,474.2 1449.08,470.7 1449.31,516.1 1449.53,542.0 1449.76,534.9 1449.99,534.8 1450.21,540.1 1450.44,539.6 1450.66,481.6 1450.89,476.6 1451.12,533.5 1451.34,479.0 1451.57,473.5 1451.80,507.3 1452.02,539.5 1452.25,537.6 1452.48,485.8 1452.70,532.2 1452.93,544.4 1453.15,487.5 1453.38,543.1 1453.61,496.9 1453.83,515.2 1454.06,504.8 1454.29,543.8 1454.51,424.8 1454.74,546.1 1454.96,483.9 1455.19,492.7 1455.42,535.9 1455.64,463.5 1455.87,498.1 1456.10,495.0 1456.32,476.4 1456.55,521.9 1456.78,539.7 1457.00,486.2 1457.23,463.7 1457.45,439.0 1457.68,477.6 1457.91,463.5 1458.13,557.2 1458.36,553.6 1458.59,549.6 1458.81,556.9 1459.04,503.6 1459.26,570.4 1459.49,465.1 1459.72,553.0 1459.94,443.0 1460.17,483.5 1460.40,470.0 1460.62,549.2 1460.85,481.9 1461.08,463.9 1461.30,519.8 1461.53,553.8 1461.75,479.9 1461.98,481.2 1462.21,557.3 1462.43,481.5 1462.66,437.4 1462.89,460.4 1463.11,471.6 1463.34,484.4 1463.56,479.6 1463.79,545.7 1464.02,462.0 1464.24,488.8 1464.47,475.6 1464.70,475.9 1464.92,481.7 1465.15,548.0 1465.38,463.0 1465.60,463.4 1465.83,463.6 1466.05,449.0 1466.28,513.1 1466.51,484.6 1466.73,480.9 1466.96,509.6 1467.19,470.3 1467.41,484.0 1467.64,488.2 1467.86,533.4 1468.09,522.1 1468.32,548.6 1468.54,477.4 1468.77,473.9 1469.00,522.3 1469.22,547.3 1469.45,478.9 1469.68,475.1 1469.90,481.9 1470.13,475.1 1470.35,548.7 1470.58,531.5 1470.81,497.7 1471.03,489.4 1471.26,528.2 1471.49,525.6 1471.71,445.5 1471.94,521.7 1472.16,493.0 1472.39,476.3 1472.62,528.0 1472.84,546.3 1473.07,514.7 1473.30,484.4 1473.52,518.5 1473.75,493.7 1473.98,475.9 1474.20,543.6 1474.43,477.3 1474.65,545.2 1474.88,485.3 1475.11,468.6 1475.33,561.1 1475.56,557.4 1475.79,521.4 1476.01,556.1 1476.24,536.1 1476.46,497.1 1476.69,497.6 1476.92,493.3 1477.14,551.4 1477.37,491.9 1477.60,554.9 1477.82,506.4 1478.05,552.5 1478.28,545.3 1478.50,518.4 1478.73,508.1 1478.95,529.2 1479.18,493.8 1479.41,524.2 1479.63,515.4 1479.86,527.3 1480.09,515.4 1480.31,499.6 1480.54,500.7 1480.76,560.8 1480.99,522.4 1481.22,546.3 1481.44,496.9 1481.67,504.2 1481.90,484.9 1482.12,528.2 1482.35,529.7 1482.58,472.3 1482.80,489.1 1483.03,488.3 1483.25,492.0 1483.48,436.5 1483.71,478.7 1483.93,549.0 1484.16,499.6 1484.39,478.3 1484.61,548.9 1484.84,479.7 1485.06,466.1 1485.29,468.8 1485.52,554.3 1485.74,466.2 1485.97,449.0 1486.20,551.3 1486.42,485.0 1486.65,542.4 1486.88,470.9 1487.10,465.8 1487.33,486.4 1487.55,479.6 1487.78,553.8 1488.01,481.5 1488.23,474.9 1488.46,443.0 1488.69,475.0 1488.91,507.4 1489.14,479.1 1489.36,467.8 1489.59,476.6 1489.82,530.3 1490.04,470.3 1490.27,465.5 1490.50,465.6 1490.72,466.2 1490.95,440.0 1491.18,469.1 1491.40,471.6 1491.63,464.7 1491.85,472.3 1492.08,487.3 1492.31,476.2 1492.53,514.0 1492.76,552.3 1492.99,541.7 1493.21,552.9 1493.44,485.8 1493.67,516.5 1493.89,459.8 1494.12,490.7 1494.34,431.1 1494.57,561.9 1494.80,480.7 1495.02,483.8 1495.25,463.4 1495.48,480.3 1495.70,567.2 1495.93,563.3 1496.15,477.6 1496.38,551.7 1496.61,514.8 1496.83,465.8 1497.06,455.0 1497.29,481.9 1497.51,480.0 1497.74,520.5 1497.97,524.1 1498.19,474.2 1498.42,554.6 1498.64,543.1 1498.87,549.5 1499.10,485.2 1499.32,521.3 1499.55,515.8 1499.78,574.3 1500.00,479.1 1500.23,512.7 1500.45,475.5 1500.68,537.5 1500.91,472.0 1501.13,550.5 1501.36,549.3 1501.59,489.9 1501.81,475.6 1502.04,533.6 1502.27,481.3 1502.49,518.1 1502.72,535.8 1502.94,553.4 1503.17,487.7 1503.40,486.4 1503.62,537.2 1503.85,485.6 1504.08,557.7 1504.30,508.7 1504.53,568.9 1504.75,566.3 1504.98,475.7 1505.21,485.9 1505.43,473.2 1505.66,564.6 1505.89,564.0 1506.11,461.0 1506.34,555.9 1506.57,476.4 1506.79,551.7 1507.02,484.3 1507.24,548.8 1507.47,536.1 1507.70,481.7 1507.92,556.7 1508.15,477.7 1508.38,479.1 1508.60,477.3 1508.83,478.3 1509.05,559.5 1509.28,475.8 1509.51,481.0 1509.73,496.5 1509.96,455.0 1510.19,514.0 1510.41,516.4 1510.64,479.0 1510.87,561.1 1511.09,528.8 1511.32,475.5 1511.54,520.7 1511.77,537.7 1512.00,557.6 1512.22,574.3 1512.45,546.6 1512.68,482.1 1512.90,478.0 1513.13,512.0 1513.35,509.8 1513.58,470.6 1513.81,476.0 1514.03,448.2 1514.26,473.1 1514.49,472.8 1514.71,556.2 1514.94,528.7 1515.17,571.0 1515.39,556.3 1515.62,488.5 1515.84,532.7 1516.07,552.3 1516.30,505.7 1516.52,558.1 1516.75,484.8 1516.98,475.4 1517.20,476.4 1517.43,543.3 1517.65,548.8 1517.88,488.6 1518.11,484.1 1518.33,547.5 1518.56,547.2 1518.79,546.5 1519.01,549.5 1519.24,543.8 1519.47,511.4 1519.69,546.0 1519.92,487.6 1520.14,542.7 1520.37,518.4 1520.60,480.9 1520.82,544.6 1521.05,493.7 1521.28,548.7 1521.50,543.0 1521.73,484.1 1521.95,487.3 1522.18,554.6 1522.41,487.5 1522.63,554.3 1522.86,480.5 1523.09,477.8 1523.31,484.2 1523.54,557.3 1523.77,552.5 1523.99,450.0 1524.22,473.3 1524.44,563.5 1524.67,505.7 1524.90,475.5 1525.12,479.6 1525.35,484.0 1525.58,480.5 1525.80,473.1 1526.03,526.4 1526.25,466.2 1526.48,474.3 1526.71,472.1 1526.93,545.9 1527.16,470.2 1527.39,474.5 1527.61,443.7 1527.84,474.3 1528.07,556.4 1528.29,498.5 1528.52,461.2 1528.74,470.4 1528.97,472.1 1529.20,460.7 1529.42,467.6 1529.65,510.2 1529.88,520.8 1530.10,497.8 1530.33,474.9 1530.55,447.0 1530.78,485.7 1531.01,548.4 1531.23,486.4 1531.46,541.9 1531.69,491.0 1531.91,481.2 1532.14,536.7 1532.37,524.2 1532.59,546.2 1532.82,473.2 1533.04,515.5 1533.27,481.0 1533.50,500.0 1533.72,505.1 1533.95,484.4 1534.18,508.7 1534.40,525.8 1534.63,505.1 1534.85,554.7 1535.08,512.6 1535.31,486.6 1535.53,560.8 1535.76,512.9 1535.99,556.6 1536.21,541.7 1536.44,492.7 1536.67,518.8 1536.89,500.6 1537.12,494.5 1537.34,533.1 1537.57,510.5 1537.80,439.2 1538.02,514.3 1538.25,493.6 1538.48,493.4 1538.70,467.7 1538.93,489.7 1539.15,489.0 1539.38,543.5 1539.61,548.8 1539.83,518.7 1540.06,473.6 1540.29,551.2 1540.51,547.1 1540.74,550.3 1540.97,480.3 1541.19,543.6 1541.42,510.6 1541.64,495.1 1541.87,528.6 1542.10,540.0 1542.32,535.7 1542.55,488.0 1542.78,565.3 1543.00,557.3 1543.23,515.9 1543.45,552.5 1543.68,531.2 1543.91,558.5 1544.13,558.6 1544.36,482.7 1544.59,503.2 1544.81,559.5 1545.04,555.8 1545.27,487.2 1545.49,510.9 1545.72,514.0 1545.94,465.0 1546.17,558.7 1546.40,558.8 1546.62,525.9 1546.85,479.5 1547.08,478.5 1547.30,559.9 1547.53,563.0 1547.76,563.5 1547.98,565.3 1548.21,490.3 1548.43,490.5 1548.66,491.4 1548.89,559.0 1549.11,484.2 1549.34,515.2 1549.57,483.8 1549.79,528.4 1550.02,481.1 1550.24,552.6 1550.47,483.4 1550.70,553.4 1550.92,561.1 1551.15,534.3 1551.38,489.0 1551.60,553.2 1551.83,524.1 1552.06,478.5 1552.28,476.3 1552.51,461.9 1552.73,547.1 1552.96,467.9 1553.19,432.0 1553.41,475.2 1553.64,501.8 1553.87,575.0 1554.09,523.8 1554.32,570.5 1554.54,477.1 1554.77,479.1 1555.00,569.9 1555.22,475.1 1555.45,569.9 1555.68,563.6 1555.90,455.0 1556.13,565.2 1556.36,564.6 1556.58,576.6 1556.81,469.3 1557.03,468.7 1557.26,467.4 1557.49,470.2 1557.71,570.5 1557.94,469.6 1558.17,481.8 1558.39,476.5 1558.62,496.3 1558.84,515.2 1559.07,461.0 1559.30,564.1 1559.52,589.5 1559.75,478.4 1559.98,575.2 1560.20,504.5 1560.43,526.8 1560.66,565.4 1560.88,487.2 1561.11,578.7 1561.33,554.9 1561.56,536.3 1561.79,561.6 1562.01,587.9 1562.24,487.5 1562.47,485.5 1562.69,580.5 1562.92,554.7 1563.14,567.8 1563.37,578.2 1563.60,581.3 1563.82,485.6 1564.05,483.7 1564.28,536.0 1564.50,516.4 1564.73,577.7 1564.96,486.3 1565.18,490.6 1565.41,589.5 1565.63,517.8 1565.86,576.9 1566.09,494.4 1566.31,492.0 1566.54,494.9 1566.77,576.7 1566.99,494.7 1567.22,521.1 1567.44,519.4 1567.67,571.8 1567.90,576.0 1568.12,573.5 1568.35,500.6 1568.58,529.3 1568.80,504.6 1569.03,554.2 1569.26,567.4 1569.48,536.2 1569.71,500.8 1569.93,526.8 1570.16,566.8 1570.39,570.7 1570.61,494.2 1570.84,491.2 1571.07,492.5 1571.29,490.4 1571.52,515.6 1571.74,577.2 1571.97,489.0 1572.20,488.6 1572.42,542.3 1572.65,514.4 1572.88,507.2 1573.10,493.3 1573.33,521.2 1573.56,547.9 1573.78,500.3 1574.01,538.7 1574.23,534.7 1574.46,504.6 1574.69,494.1 1574.91,515.6 1575.14,523.9 1575.37,506.6 1575.59,566.9 1575.82,526.4 1576.04,569.8 1576.27,531.9 1576.50,489.8 1576.72,572.5 1576.95,473.3 1577.18,501.7 1577.40,539.4 1577.63,563.6 1577.86,496.3 1578.08,498.7 1578.31,526.8 1578.53,517.9 1578.76,510.9 1578.99,549.0 1579.21,531.5 1579.44,568.0 1579.67,499.3 1579.89,502.2 1580.12,577.0 1580.34,528.4 1580.57,493.0 1580.80,522.2 1581.02,551.7 1581.25,576.2 1581.48,581.3 1581.70,534.4 1581.93,503.3 1582.16,583.4 1582.38,524.1 1582.61,532.7 1582.83,584.1 1583.06,512.8 1583.29,513.4 1583.51,608.4 1583.74,574.9 1583.97,589.2 1584.19,558.1 1584.42,580.6 1584.64,576.9 1584.87,561.0 1585.10,551.9 1585.32,567.2 1585.55,547.5 1585.78,542.8 1586.00,551.2 1586.23,508.0 1586.46,574.7 1586.68,558.8 1586.91,509.3 1587.13,507.9 1587.36,551.4 1587.59,549.8 1587.81,535.7 1588.04,552.3 1588.27,528.7 1588.49,572.1 1588.72,509.7 1588.94,573.6 1589.17,537.0 1589.40,522.5 1589.62,585.9 1589.85,531.6 1590.08,583.0 1590.30,534.0 1590.53,517.5 1590.76,513.2 1590.98,550.2 1591.21,577.1 1591.43,563.6 1591.66,547.2 1591.89,519.9 1592.11,520.4 1592.34,556.1 1592.57,536.8 1592.79,516.0 1593.02,545.1 1593.24,558.9 1593.47,533.1 1593.70,562.9 1593.92,575.4 1594.15,544.3 1594.38,565.7 1594.60,543.3 1594.83,530.1 1595.06,556.6 1595.28,538.7 1595.51,523.2 1595.73,594.0 1595.96,508.5 1596.19,574.4 1596.41,587.0 1596.64,507.7 1596.87,508.8 1597.09,526.1 1597.32,577.6 1597.55,515.3 1597.77,519.4 1598.00,516.0 1598.22,528.3 1598.45,513.0 1598.68,585.0 1598.90,586.6 1599.13,554.3 1599.36,561.1 1599.58,562.7 1599.81,553.9 1600.03,563.1 1600.26,586.7 1600.49,562.9 1600.71,570.2 1600.94,516.1 1601.17,525.8 1601.39,558.4 1601.62,507.6 1601.85,565.5 1602.07,592.2 1602.30,571.3 1602.52,591.5 1602.75,536.0 1602.98,489.5 1603.20,511.2 1603.43,595.7 1603.66,595.6 1603.88,531.9 1604.11,554.3 1604.33,515.6 1604.56,510.8 1604.79,559.2 1605.01,512.0 1605.24,527.7 1605.47,558.5 1605.69,600.3 1605.92,559.2 1606.15,595.5 1606.37,526.7 1606.60,539.0 1606.82,561.7 1607.05,556.7 1607.28,509.4 1607.50,545.8 1607.73,514.3 1607.96,580.8 1608.18,589.4 1608.41,514.4 1608.63,587.0 1608.86,520.4 1609.09,589.4 1609.31,546.4 1609.54,513.2 1609.77,580.6 1609.99,518.5 1610.22,571.0 1610.45,551.8 1610.67,591.7 1610.90,519.3 1611.12,567.5 1611.35,514.0 1611.58,554.4 1611.80,597.4 1612.03,569.5 1612.26,600.1 1612.48,510.1 1612.71,603.4 1612.93,502.2 1613.16,605.1 1613.39,588.9 1613.61,613.2 1613.84,532.7 1614.07,559.0 1614.29,564.4 1614.52,509.5 1614.75,570.2 1614.97,603.3 1615.20,575.8 1615.42,543.0 1615.65,540.7 1615.88,551.9 1616.10,554.8 1616.33,538.1 1616.56,559.6 1616.78,508.7 1617.01,549.7 1617.23,499.8 1617.46,569.2 1617.69,510.2 1617.91,509.4 1618.14,584.9 1618.37,525.3 1618.59,504.0 1618.82,569.9 1619.05,531.7 1619.27,468.8 1619.50,553.4 1619.72,591.5 1619.95,595.5 1620.18,504.0 1620.40,496.4 1620.63,507.3 1620.86,525.0 1621.08,596.3 1621.31,520.7 1621.53,603.6 1621.76,572.1 1621.99,526.2 1622.21,594.7 1622.44,600.0 1622.67,521.0 1622.89,562.9 1623.12,561.4 1623.35,527.9 1623.57,521.0 1623.80,578.2 1624.02,599.8 1624.25,516.6 1624.48,606.1 1624.70,522.5 1624.93,518.8 1625.16,609.3 1625.38,580.9 1625.61,554.0 1625.83,523.4 1626.06,601.0 1626.29,593.3 1626.51,552.8 1626.74,523.1 1626.97,547.6 1627.19,621.9 1627.42,604.8 1627.65,595.2 1627.87,519.3 1628.10,514.7 1628.32,538.6 1628.55,603.4 1628.78,576.8 1629.00,520.3 1629.23,520.8 1629.46,524.4 1629.68,528.2 1629.91,609.1 1630.13,581.7 1630.36,586.7 1630.59,548.1 1630.81,535.7 1631.04,521.5 1631.27,608.0 1631.49,610.6 1631.72,604.7 1631.95,524.6 1632.17,529.3 1632.40,523.7 1632.62,525.5 1632.85,610.8 1633.08,520.8 1633.30,535.2 1633.53,608.3 1633.76,583.9 1633.98,599.0 1634.21,528.1 1634.43,574.0 1634.66,526.2 1634.89,604.2 1635.11,525.1 1635.34,540.9 1635.57,576.7 1635.79,527.7 1636.02,602.2 1636.25,552.8 1636.47,527.0 1636.70,574.8 1636.92,602.8 1637.15,601.6 1637.38,531.8 1637.60,597.8 1637.83,601.5 1638.06,567.6 1638.28,611.0 1638.51,599.6 1638.73,583.5 1638.96,572.6 1639.19,579.2 1639.41,579.4 1639.64,576.7 1639.87,622.0 1640.09,581.0 1640.32,619.6 1640.55,542.0 1640.77,533.3 1641.00,552.6 1641.22,587.6 1641.45,616.2 1641.68,620.1 1641.90,614.2 1642.13,581.7 1642.36,585.0 1642.58,618.1 1642.81,617.3 1643.03,563.7 1643.26,617.4 1643.49,572.0 1643.71,621.0 1643.94,623.6 1644.17,547.5 1644.39,634.5 1644.62,624.9 1644.85,549.4 1645.07,626.5 1645.30,547.2 1645.52,594.9 1645.75,598.1 1645.98,609.8 1646.20,622.0 1646.43,623.0 1646.66,581.1 1646.88,590.1 1647.11,619.3 1647.33,619.1 1647.56,581.5 1647.79,619.4 1648.01,564.7 1648.24,621.3 1648.47,579.3 1648.69,618.1 1648.92,565.0 1649.15,618.2 1649.37,610.5 1649.60,553.5 1649.82,610.6 1650.05,583.0 1650.28,545.5 1650.50,548.5 1650.73,620.0 1650.96,575.7 1651.18,598.2 1651.41,543.5 1651.64,614.3 1651.86,622.6 1652.09,620.4 1652.31,621.0 1652.54,620.3 1652.77,604.6 1652.99,579.2 1653.22,577.3 1653.45,587.2 1653.67,624.7 1653.90,576.8 1654.12,595.4 1654.35,622.8 1654.58,547.7 1654.80,620.7 1655.03,630.0 1655.26,619.8 1655.48,621.4 1655.71,600.4 1655.94,558.3 1656.16,599.9 1656.39,555.9 1656.61,606.6 1656.84,621.2 1657.07,607.1 1657.29,613.3 1657.52,608.5 1657.75,566.6 1657.97,617.2 1658.20,587.6 1658.42,585.8 1658.65,546.1 1658.88,562.9 1659.10,560.1 1659.33,580.6 1659.56,606.8 1659.78,561.0 1660.01,588.6 1660.24,615.2 1660.46,577.6 1660.69,557.1 1660.91,596.9 1661.14,558.5 1661.37,580.2 1661.59,612.6 1661.82,614.9 1662.05,604.1 1662.27,555.7 1662.50,558.1 1662.72,618.0 1662.95,569.4 1663.18,617.4 1663.40,581.1 1663.63,588.7 1663.86,588.8 1664.08,591.2 1664.31,562.2 1664.54,571.5 1664.76,634.9 1664.99,583.9 1665.21,602.7 1665.44,555.5 1665.67,566.3 1665.89,591.4 1666.12,625.1 1666.35,557.2 1666.57,562.0 1666.80,616.9 1667.02,588.0 1667.25,574.7 1667.48,570.4 1667.70,619.9 1667.93,623.4 1668.16,627.8 1668.38,553.8 1668.61,593.2 1668.84,638.6 1669.06,662.3 1669.29,629.9 1669.51,589.5 1669.74,628.4 1669.97,614.2 1670.19,547.3 1670.42,594.9 1670.65,615.5 1670.87,529.9 1671.10,573.0 1671.32,556.9 1671.55,632.5 1671.78,617.3 1672.00,619.8 1672.23,623.7 1672.46,592.9 1672.68,596.4 1672.91,618.2 1673.14,556.5 1673.36,575.8 1673.59,582.5 1673.81,564.3 1674.04,635.2 1674.27,599.6 1674.49,607.4 1674.72,572.2 1674.95,608.3 1675.17,620.4 1675.40,605.3 1675.62,619.5 1675.85,582.4 1676.08,563.6 1676.30,620.4 1676.53,621.1 1676.76,622.5 1676.98,587.8 1677.21,568.0 1677.44,607.0 1677.66,622.2 1677.89,627.9 1678.11,627.5 1678.34,591.2 1678.57,628.9 1678.79,561.3 1679.02,590.2 1679.25,624.6 1679.47,631.8 1679.70,608.7 1679.92,615.4 1680.15,619.0 1680.38,616.7 1680.60,618.2 1680.83,606.0 1681.06,617.6 1681.28,611.4 1681.51,557.2 1681.74,618.4 1681.96,622.0 1682.19,623.5 1682.41,622.5 1682.64,570.2 1682.87,622.9 1683.09,622.0 1683.32,625.4 1683.55,623.9 1683.77,625.3 1684.00,602.2 1684.22,553.0 1684.45,629.8 1684.68,582.2 1684.90,555.5 1685.13,558.5 1685.36,622.4 1685.58,551.1 1685.81,554.1 1686.04,633.7 1686.26,626.9 1686.49,538.0 1686.71,621.6 1686.94,600.8 1687.17,575.4 1687.39,640.8 1687.62,626.6 1687.85,595.2 1688.07,626.4 1688.30,558.3 1688.52,556.9 1688.75,620.3 1688.98,559.4 1689.20,598.3 1689.43,627.5 1689.66,567.3 1689.88,583.9 1690.11,605.5 1690.34,625.9 1690.56,599.6 1690.79,589.2 1691.01,579.9 1691.24,588.5 1691.47,570.2 1691.69,628.4 1691.92,565.5 1692.15,629.4 1692.37,628.4 1692.60,626.5 1692.82,627.7 1693.05,627.1 1693.28,594.6 1693.50,564.0 1693.73,565.2 1693.96,580.6 1694.18,622.4 1694.41,622.6 1694.64,599.3 1694.86,612.9 1695.09,620.8 1695.31,622.8 1695.54,592.3 1695.77,586.4 1695.99,603.5 1696.22,596.0 1696.45,606.8 1696.67,614.5 1696.90,591.8 1697.12,610.7 1697.35,602.8 1697.58,581.5 1697.80,616.3 1698.03,601.6 1698.26,631.8 1698.48,611.6 1698.71,616.5 1698.94,584.9 1699.16,595.6 1699.39,576.4 1699.61,590.6 1699.84,628.9 1700.07,596.8 1700.29,591.1 1700.52,615.5 1700.75,605.1 1700.97,594.1 1701.20,595.3 1701.42,589.0 1701.65,578.8 1701.88,575.3 1702.10,564.4 1702.33,569.6 1702.56,579.9 1702.78,566.7 1703.01,615.4 1703.24,582.5 1703.46,599.8 1703.69,590.6 1703.91,558.1 1704.14,567.6 1704.37,577.1 1704.59,560.1 1704.82,611.9 1705.05,578.1 1705.27,579.3 1705.50,561.6 1705.73,586.1 1705.95,601.9 1706.18,552.7 1706.40,574.6 1706.63,629.1 1706.86,635.5 1707.08,545.3 1707.31,617.5 1707.54,521.0 1707.76,631.1 1707.99,531.9 1708.21,576.9 1708.44,572.2 1708.67,606.0 1708.89,560.8 1709.12,552.6 1709.35,626.7 1709.57,573.0 1709.80,611.7 1710.03,539.0 1710.25,571.8 1710.48,576.7 1710.70,653.3 1710.93,604.7 1711.16,572.2 1711.38,625.3 1711.61,534.1 1711.84,540.1 1712.06,616.8 1712.29,636.9 1712.51,612.4 1712.74,562.6 1712.97,583.5 1713.19,627.7 1713.42,560.3 1713.65,600.8 1713.87,627.2 1714.10,619.6 1714.33,546.2 1714.55,597.0 1714.78,618.1 1715.00,614.0 1715.23,544.4 1715.46,616.0 1715.68,596.4 1715.91,618.8 1716.14,583.1 1716.36,553.9 1716.59,618.1 1716.81,596.1 1717.04,623.2 1717.27,627.6 1717.49,574.2 1717.72,626.0 1717.95,620.3 1718.17,587.5 1718.40,615.0 1718.63,612.3 1718.85,635.4 1719.08,625.3 1719.30,582.7 1719.53,593.4 1719.76,560.4 1719.98,619.5 1720.21,621.2 1720.44,554.6 1720.66,616.5 1720.89,536.1 1721.11,596.3 1721.34,609.7 1721.57,607.0 1721.79,599.6 1722.02,540.6 1722.25,557.7 1722.47,602.9 1722.70,600.3 1722.93,600.1 1723.15,599.9 1723.38,552.6 1723.60,576.3 1723.83,578.1 1724.06,598.9 1724.28,599.6 1724.51,607.6 1724.74,603.3 1724.96,579.8 1725.19,577.9 1725.41,597.4 1725.64,584.6 1725.87,612.6 1726.09,565.2 1726.32,611.4 1726.55,608.5 1726.77,609.0 1727.00,553.6 1727.23,611.2 1727.45,557.3 1727.68,617.3 1727.90,532.6 1728.13,584.7 1728.36,547.3 1728.58,613.3 1728.81,621.9 1729.04,573.2 1729.26,591.3 1729.49,569.4 1729.71,618.5 1729.94,619.7 1730.17,554.8 1730.39,550.8 1730.62,554.4 1730.85,620.2 1731.07,564.3 1731.30,565.0 1731.53,547.0 1731.75,610.5 1731.98,625.6 1732.20,540.3 1732.43,579.2 1732.66,535.4 1732.88,550.8 1733.11,587.7 1733.34,548.8 1733.56,572.7 1733.79,619.2 1734.01,533.9 1734.24,555.9 1734.47,615.8 1734.69,537.4 1734.92,614.7 1735.15,599.7 1735.37,547.0 1735.60,599.7 1735.83,537.2 1736.05,620.7 1736.28,542.6 1736.50,605.8 1736.73,569.8 1736.96,573.3 1737.18,619.7 1737.41,591.7 1737.64,584.9 1737.86,585.6 1738.09,551.2 1738.31,549.8 1738.54,574.2 1738.77,588.6 1738.99,579.4 1739.22,607.6 1739.45,528.9 1739.67,564.1 1739.90,575.2 1740.13,613.3 1740.35,517.5 1740.58,601.6 1740.80,531.5 1741.03,518.9 1741.26,558.0 1741.48,588.3 1741.71,466.0 1741.94,597.6 1742.16,525.9 1742.39,578.7 1742.61,611.8 1742.84,595.1 1743.07,619.3 1743.29,566.0 1743.52,622.5 1743.75,544.4 1743.97,575.5 1744.20,618.6 1744.43,617.8 1744.65,617.9 1744.88,517.4 1745.10,536.8 1745.33,522.7 1745.56,614.4 1745.78,562.7 1746.01,612.6 1746.24,536.0 1746.46,532.2 1746.69,529.2 1746.91,552.0 1747.14,553.6 1747.37,530.4 1747.59,604.3 1747.82,607.8 1748.05,582.6 1748.27,608.9 1748.50,540.0 1748.73,578.8 1748.95,563.1 1749.18,579.0 1749.40,613.8 1749.63,533.8 1749.86,555.7 1750.08,518.4 1750.31,621.9 1750.54,583.4 1750.76,528.7 1750.99,601.8 1751.21,600.8 1751.44,511.3 1751.67,603.3 1751.89,583.8 1752.12,490.5 1752.35,503.3 1752.57,578.6 1752.80,536.9 1753.03,603.3 1753.25,548.5 1753.48,602.3 1753.70,602.4 1753.93,527.3 1754.16,517.7 1754.38,568.7 1754.61,517.7 1754.84,529.1 1755.06,599.9 1755.29,598.0 1755.52,522.0 1755.74,539.9 1755.97,593.5 1756.19,598.1 1756.42,550.0 1756.65,598.6 1756.87,578.8 1757.10,519.2 1757.33,600.4 1757.55,517.0 1757.78,512.6 1758.00,523.0 1758.23,608.9 1758.46,520.0 1758.68,521.5 1758.91,519.2 1759.14,518.8 1759.36,577.5 1759.59,551.6 1759.82,517.2 1760.04,568.4 1760.27,544.4 1760.49,515.2 1760.72,546.4 1760.95,604.9 1761.17,509.3 1761.40,512.9 1761.63,573.4 1761.85,590.6 1762.08,548.8 1762.30,571.0 1762.53,532.2 1762.76,573.7 1762.98,519.8 1763.21,524.2 1763.44,526.3 1763.66,535.7 1763.89,579.3 1764.12,535.8 1764.34,548.7 1764.57,515.6 1764.79,614.7 1765.02,550.9 1765.25,509.3 1765.47,511.3 1765.70,508.8 1765.93,510.2 1766.15,506.4 1766.38,571.4 1766.60,507.2 1766.83,512.3 1767.06,605.6 1767.28,543.2 1767.51,511.1 1767.74,586.4 1767.96,574.8 1768.19,602.1 1768.42,505.8 1768.64,542.2 1768.87,586.6 1769.09,512.5 1769.32,560.7 1769.55,568.7 1769.77,501.5 1770.00,527.7 1770.23,485.6 1770.45,493.0 1770.68,510.8 1770.90,549.3 1771.13,542.4 1771.36,539.8 1771.58,562.2 1771.81,595.0 1772.04,544.0 1772.26,582.8 1772.49,567.6 1772.72,552.2 1772.94,585.0 1773.17,604.0 1773.39,457.5 1773.62,569.5 1773.85,578.5 1774.07,487.6 1774.30,590.7 1774.53,502.4 1774.75,555.0 1774.98,544.1 1775.20,570.4 1775.43,524.4 1775.66,550.5 1775.88,503.0 1776.11,597.8 1776.34,595.5 1776.56,570.0 1776.79,538.3 1777.02,555.6 1777.24,592.5 1777.47,523.7 1777.69,585.7 1777.92,592.7 1778.15,592.3 1778.37,582.2 1778.60,565.3 1778.83,550.1 1779.05,559.6 1779.28,574.3 1779.50,581.0 1779.73,589.0 1779.96,555.6 1780.18,588.9 1780.41,589.9 1780.64,511.7 1780.86,512.4 1781.09,554.0 1781.32,559.3 1781.54,580.0 1781.77,593.4 1781.99,597.2 1782.22,601.3 1782.45,602.5 1782.67,609.3 1782.90,579.8 1783.13,507.0 1783.35,556.6 1783.58,520.2 1783.80,596.6 1784.03,522.4 1784.26,565.4 1784.48,505.7 1784.71,553.3 1784.94,591.1 1785.16,559.3 1785.39,589.5 1785.62,567.0 1785.84,525.9 1786.07,591.3 1786.29,577.5 1786.52,531.7 1786.75,557.4 1786.97,581.4 1787.20,511.9 1787.43,527.9 1787.65,552.5 1787.88,512.9 1788.10,580.2 1788.33,555.5 1788.56,534.2 1788.78,509.4 1789.01,573.5 1789.24,511.8 1789.46,558.1 1789.69,511.7 1789.92,576.6 1790.14,510.5 1790.37,512.3 1790.59,518.2 1790.82,553.7 1791.05,508.4 1791.27,542.6 1791.50,571.0 1791.73,512.6 1791.95,533.6 1792.18,572.0 1792.40,569.4 1792.63,545.6 1792.86,508.3 1793.08,504.2 1793.31,502.4 1793.54,518.0 1793.76,573.9 1793.99,566.4 1794.22,519.5 1794.44,496.2 1794.67,496.5 1794.89,508.2 1795.12,553.9 1795.35,538.4 1795.57,499.2 1795.80,488.0 1796.03,551.8 1796.25,500.6 1796.48,521.5 1796.70,543.8 1796.93,558.4 1797.16,512.8 1797.38,545.9 1797.61,512.8 1797.84,540.8 1798.06,556.8 1798.29,547.2 1798.52,543.3 1798.74,545.2 1798.97,514.8 1799.19,557.9 1799.42,525.0 1799.65,520.5 1799.87,566.5 1800.10,529.9 1800.33,551.0 1800.55,537.7 1800.78,515.1 1801.00,525.7 1801.23,571.1 1801.46,515.8 1801.68,578.8 1801.91,573.7 1802.14,528.1 1802.36,526.6 1802.59,576.3 1802.82,572.7 1803.04,541.7 1803.27,565.7 1803.49,516.0 1803.72,512.7 1803.95,541.2 1804.17,516.8 1804.40,519.0 1804.63,511.1 1804.85,528.0 1805.08,526.4 1805.30,538.5 1805.53,568.8 1805.76,510.4 1805.98,549.2 1806.21,581.5 1806.44,506.4 1806.66,575.2 1806.89,574.5 1807.12,572.1 1807.34,543.5 1807.57,521.6 1807.79,529.0 1808.02,502.1 1808.25,558.1 1808.47,570.9 1808.70,562.9 1808.93,568.1 1809.15,512.7 1809.38,533.3 1809.61,495.8 1809.83,545.9 1810.06,502.8 1810.28,568.8 1810.51,566.0 1810.74,567.2 1810.96,566.6 1811.19,507.5 1811.42,558.0 1811.64,496.9 1811.87,569.8 1812.09,502.0 1812.32,501.6 1812.55,536.4 1812.77,566.0 1813.00,532.2 1813.23,558.0 1813.45,507.1 1813.68,510.6 1813.91,573.5 1814.13,514.4 1814.36,533.7 1814.58,533.6 1814.81,576.9 1815.04,537.9 1815.26,512.4 1815.49,510.0 1815.72,550.1 1815.94,512.8 1816.17,572.8 1816.39,512.8 1816.62,514.3 1816.85,579.5 1817.07,516.1 1817.30,511.4 1817.53,514.6 1817.75,540.0 1817.98,509.7 1818.21,548.7 1818.43,509.8 1818.66,578.1 1818.88,551.9 1819.11,573.7 1819.34,577.1 1819.56,577.1 1819.79,582.0 1820.02,503.5 1820.24,535.9 1820.47,564.1 1820.69,563.5 1820.92,549.6 1821.15,516.9 1821.37,596.7 1821.60,539.2 1821.83,548.6 1822.05,506.4 1822.28,582.1 1822.51,542.7 1822.73,543.5 1822.96,527.9 1823.18,494.9 1823.41,574.6 1823.64,507.5 1823.86,523.7 1824.09,574.2 1824.32,575.8 1824.54,583.4 1824.77,539.0 1824.99,513.5 1825.22,512.2 1825.45,567.5 1825.67,550.2 1825.90,580.4 1826.13,578.5 1826.35,531.8 1826.58,550.7 1826.81,578.9 1827.03,578.4 1827.26,563.9 1827.48,575.4 1827.71,574.2 1827.94,574.4 1828.16,572.4 1828.39,503.1 1828.62,568.8 1828.84,570.3 1829.07,571.3 1829.29,571.2 1829.52,495.0 1829.75,495.1 1829.97,510.8 1830.20,558.7 1830.43,545.4 1830.65,578.4 1830.88,553.4 1831.11,578.4 1831.33,586.8 1831.56,553.0 1831.78,538.5 1832.01,534.3 1832.24,571.0 1832.46,574.6 1832.69,541.6 1832.92,472.0 1833.14,573.9 1833.37,536.7 1833.59,519.4 1833.82,492.2 1834.05,571.8 1834.27,534.7 1834.50,484.1" fill="none" stroke="#4472C4" stroke-width="6.0" stroke-linejoin="round" stroke-linecap="round"/>
<polyline points="250.5,526.6 251.3,527.5 252.1,525.9 252.9,521.0 253.7,520.0 254.5,519.9 255.3,521.7 256.1,530.3 256.9,527.7 257.7,520.0 258.5,523.5 259.3,526.9 260.1,525.0 260.9,519.4 261.7,518.4 262.5,524.7 263.3,519.5 264.1,515.0 264.9,512.5 265.7,508.7 266.5,508.1 267.3,512.3 268.1,514.7 268.9,516.8 269.7,522.6 270.5,520.9 271.3,510.4 272.1,508.8 272.9,518.8 273.7,521.7 274.5,516.0 275.3,513.0 276.1,515.0 276.9,514.0 277.7,522.8 278.5,523.0 279.3,518.7 280.1,525.6 280.9,523.4 281.7,519.2 282.5,522.1 283.3,522.3 284.1,517.4 284.9,517.4 285.7,527.2 286.5,520.3 287.3,518.7 288.1,525.5 288.9,518.7 289.7,526.0 290.5,531.6 291.3,518.4 292.1,516.3 292.9,523.5 293.7,522.3 294.5,522.7 295.3,523.4 296.1,523.0 296.9,528.8 297.7,523.6 298.5,518.9 299.3,520.1 300.1,520.2 300.9,518.1 301.7,515.3 302.5,519.3 303.3,525.7 304.1,530.7 304.9,522.2 305.7,514.5 306.5,522.3 307.3,517.5 308.1,513.2 308.9,520.9 309.7,528.2 310.5,531.4 311.3,524.7 312.1,520.3 312.9,520.3 313.7,527.5 314.5,526.7 315.3,518.7 316.1,521.9 316.9,522.3 317.7,520.2 318.5,516.1 319.3,516.9 320.1,520.1 320.9,524.5 321.7,528.9 322.5,524.5 323.3,524.5 324.1,523.1 324.9,525.1 325.7,527.2 326.5,525.1 327.3,520.4 328.1,519.7 328.9,518.2 329.7,509.3 330.5,515.0 331.3,520.0 332.1,521.3 332.9,534.6 333.7,530.2 334.5,518.1 335.3,522.4 336.1,527.1 336.9,525.9 337.7,522.6 338.5,526.4 339.3,529.6 340.1,522.8 340.9,520.4 341.7,524.5 342.5,520.9 343.3,521.7 344.1,522.8 344.9,525.3 345.7,529.5 346.5,526.8 347.3,523.4 348.1,523.0 348.9,517.2 349.7,513.3 350.5,522.6 351.3,518.5 352.1,520.2 352.9,522.0 353.7,521.5 354.5,525.3 355.3,525.4 356.1,529.4 356.9,519.9 357.7,524.8 358.5,536.5 359.3,531.5 360.1,524.7 360.9,524.4 361.7,521.0 362.5,526.3 363.3,527.8 364.1,523.3 364.9,522.8 365.7,520.3 366.5,518.1 367.3,525.7 368.1,530.2 368.9,529.5 369.7,530.3 370.5,523.4 371.3,522.4 372.1,522.5 372.9,523.7 373.7,525.3 374.5,524.2 375.3,520.2 376.1,517.8 376.9,529.2 377.7,529.8 378.5,519.2 379.3,523.0 380.1,532.8 380.9,525.6 381.7,518.9 382.5,522.5 383.3,516.3 384.1,522.0 384.9,529.1 385.7,526.3 386.5,523.6 387.3,524.8 388.1,526.1 388.9,523.7 389.7,521.3 390.5,516.5 391.3,526.1 392.1,528.7 392.9,524.1 393.7,525.9 394.5,522.5 395.3,520.5 396.1,524.6 396.9,525.1 397.7,521.6 398.5,522.3 399.3,527.7 400.1,529.8 400.9,526.6 401.7,521.6 402.5,514.3 403.3,520.7 404.1,529.9 404.9,525.6 405.7,524.1 406.5,528.2 407.3,528.9 408.1,529.0 408.9,523.5 409.7,525.5 410.5,522.6 411.3,520.0 412.1,527.0 412.9,526.9 413.7,532.4 414.5,535.4 415.3,523.1 416.1,510.4 416.9,518.0 417.7,520.3 418.5,516.5 419.3,523.6 420.1,517.1 420.9,505.2 421.7,513.1 422.5,522.1 423.3,519.9 424.1,519.9 424.9,517.6 425.7,511.0 426.5,513.3 427.3,515.4 428.1,509.3 428.9,515.7 429.7,521.3 430.5,521.1 431.3,517.6 432.1,513.5 432.9,513.7 433.7,512.7 434.5,516.8 435.3,517.5 436.1,517.9 436.9,521.8 437.7,528.9 438.5,522.5 439.3,518.1 440.1,523.6 440.9,519.2 441.7,514.1 442.5,512.0 443.3,520.5 444.1,522.3 444.9,519.4 445.7,518.3 446.5,522.1 447.3,523.0 448.1,509.4 448.9,506.9 449.7,507.3 450.5,497.0 451.3,502.2 452.1,520.0 452.9,522.4 453.7,512.6 454.5,509.3 455.3,518.6 456.1,522.6 456.9,518.3 457.7,517.7 458.5,517.8 459.3,521.6 460.1,523.9 460.9,521.6 461.7,515.5 462.5,516.4 463.3,518.4 464.1,520.7 464.9,518.8 465.7,513.4 466.5,517.8 467.3,512.9 468.1,519.9 468.9,530.9 469.7,521.5 470.5,518.7 471.3,522.0 472.1,508.5 472.9,508.1 473.7,518.4 474.5,517.4 475.3,512.9 476.1,511.8 476.9,514.8 477.7,520.4 478.5,522.6 479.3,517.7 480.1,522.2 480.9,520.3 481.7,512.9 482.5,508.3 483.3,515.7 484.1,526.3 484.9,523.5 485.7,521.9 486.5,518.6 487.3,516.7 488.1,515.4 488.9,514.1 489.7,515.8 490.5,522.3 491.3,524.4 492.1,518.3 492.9,513.9 493.7,511.6 494.5,520.1 495.3,525.0 496.1,519.1 496.9,515.5 497.7,511.3 498.5,512.9 499.3,520.9 500.1,519.8 500.9,515.2 501.7,516.0 502.5,517.8 503.3,512.3 504.1,511.1 504.9,513.9 505.7,518.7 506.5,519.3 507.3,518.0 508.1,527.2 508.9,523.2 509.7,514.5 510.5,516.0 511.3,518.7 512.1,514.2 512.9,516.4 513.7,528.2 514.5,525.5 515.3,517.0 516.1,514.0 516.9,516.3 517.7,515.4 518.5,510.1 519.3,520.4 520.1,521.8 520.9,521.9 521.7,531.8 522.5,529.2 523.3,525.5 524.1,532.4 524.9,529.6 525.7,519.6 526.5,515.0 527.3,518.2 528.1,529.7 528.9,533.7 529.7,524.7 530.5,517.7 531.3,519.7 532.1,524.2 532.9,526.1 533.7,526.0 534.5,528.3 535.3,526.1 536.1,524.3 536.9,545.0 537.7,525.9 538.5,527.3 539.3,534.5 540.1,534.6 540.9,526.9 541.7,517.3 542.5,518.0 543.3,516.9 544.1,509.9 544.9,521.1 545.7,529.6 546.5,525.2 547.3,515.2 548.1,513.8 548.9,517.9 549.7,521.7 550.5,533.5 551.3,532.0 552.1,520.2 552.9,515.0 553.7,518.1 554.5,522.8 555.3,518.0 556.1,518.8 556.9,517.9 557.7,522.1 558.5,531.4 559.3,531.8 560.1,526.2 560.9,524.1 561.7,525.5 562.5,521.8 563.3,520.8 564.1,517.3 564.9,512.9 565.7,521.2 566.5,525.8 567.3,523.8 568.1,528.5 568.9,521.3 569.7,514.3 570.5,521.4 571.3,525.8 572.1,523.9 572.9,526.0 573.7,528.5 574.5,519.9 575.3,515.8 576.1,523.3 576.9,528.1 577.7,517.7 578.5,520.6 579.3,529.5 580.1,529.1 580.9,525.5 581.7,519.2 582.5,516.5 583.3,526.3 584.1,529.6 584.9,526.1 585.7,524.0 586.5,519.1 587.3,515.2 588.1,512.9 588.9,522.1 589.7,519.1 590.5,519.4 591.3,524.8 592.1,517.4 592.9,514.3 593.7,516.6 594.5,517.8 595.3,517.5 596.1,514.7 596.9,514.9 597.7,514.1 598.5,510.4 599.3,513.7 600.1,520.7 600.9,515.7 601.7,512.5 602.5,515.1 603.3,511.7 604.1,516.5 604.9,517.4 605.7,518.7 606.5,517.8 607.3,514.3 608.1,515.9 608.9,512.6 609.7,515.1 610.5,517.0 611.3,516.9 612.1,517.2 612.9,511.9 613.7,511.5 614.5,514.8 615.3,517.9 616.1,514.8 616.9,511.6 617.7,508.7 618.5,510.2 619.3,511.2 620.1,503.7 620.9,506.4 621.7,514.2 622.5,509.6 623.3,502.8 624.1,504.7 624.9,504.6 625.7,507.9 626.5,508.4 627.3,505.0 628.1,508.9 628.9,508.7 629.7,508.5 630.5,507.6 631.3,502.7 632.1,499.7 632.9,508.3 633.7,512.8 634.5,507.4 635.3,507.6 636.1,507.1 636.9,506.8 637.7,511.4 638.5,507.8 639.3,497.0 640.1,496.7 640.9,497.0 641.7,501.6 642.5,507.9 643.3,502.7 644.1,496.0 644.9,497.7 645.7,505.7 646.5,498.3 647.3,495.9 648.1,500.7 648.9,501.9 649.7,501.6 650.5,497.8 651.3,496.5 652.1,494.4 652.9,502.6 653.7,507.8 654.5,502.1 655.3,497.0 656.1,492.3 656.9,493.0 657.7,498.2 658.5,498.9 659.3,497.9 660.1,494.4 660.9,494.0 661.7,497.2 662.5,500.8 663.3,505.6 664.1,501.0 664.9,492.8 665.7,492.9 666.5,492.8 667.3,490.0 668.1,491.3 668.9,490.5 669.7,492.0 670.5,494.2 671.3,493.2 672.1,493.2 672.9,490.0 673.7,487.4 674.5,488.6 675.3,490.2 676.1,491.5 676.9,493.0 677.7,488.0 678.5,488.3 679.3,488.5 680.1,486.5 680.9,489.4 681.7,484.7 682.5,486.4 683.3,492.6 684.1,491.3 684.9,489.7 685.7,488.3 686.5,486.2 687.3,485.6 688.1,486.3 688.9,486.9 689.7,484.4 690.5,484.1 691.3,487.7 692.1,486.0 692.9,483.6 693.7,485.4 694.5,480.7 695.3,480.1 696.1,485.3 696.9,484.2 697.7,484.1 698.5,481.0 699.3,478.5 700.1,481.9 700.9,483.4 701.7,481.2 702.5,475.2 703.3,475.7 704.1,482.8 704.9,484.1 705.7,480.7 706.5,472.8 707.3,474.3 708.1,477.7 708.9,467.0 709.7,468.3 710.5,471.1 711.3,466.1 712.1,468.0 712.9,475.3 713.7,475.8 714.5,472.3 715.3,478.1 716.1,481.6 716.9,475.9 717.7,470.2 718.5,466.1 719.3,464.5 720.1,469.1 720.9,471.8 721.7,470.0 722.5,471.2 723.3,468.0 724.1,464.6 724.9,468.4 725.7,470.1 726.5,470.6 727.3,469.6 728.1,464.8 728.9,463.8 729.7,461.4 730.5,455.3 731.3,459.1 732.1,463.4 732.9,462.1 733.7,457.2 734.5,454.6 735.3,457.1 736.1,454.8 736.9,449.1 737.7,450.2 738.5,458.7 739.3,460.2 740.1,455.5 740.9,454.0 741.7,457.0 742.5,448.3 743.3,445.4 744.1,454.6 744.9,456.3 745.7,459.1 746.5,460.0 747.3,455.6 748.1,452.9 748.9,453.8 749.7,450.6 750.5,447.8 751.3,451.6 752.1,456.6 752.9,452.8 753.7,446.5 754.5,446.9 755.3,450.5 756.1,449.1 756.9,449.0 757.7,446.0 758.5,440.3 759.3,441.9 760.1,444.3 760.9,447.7 761.7,440.6 762.5,434.3 763.3,438.9 764.1,439.5 764.9,433.7 765.7,438.7 766.5,444.5 767.3,442.3 768.1,439.2 768.9,440.3 769.7,440.2 770.5,440.7 771.3,438.4 772.1,432.3 772.9,435.2 773.7,435.4 774.5,436.6 775.3,439.5 776.1,434.2 776.9,433.0 777.7,434.1 778.5,436.3 779.3,435.3 780.1,430.9 780.9,436.1 781.7,443.7 782.5,445.4 783.3,438.7 784.1,433.0 784.9,436.9 785.7,435.3 786.5,427.6 787.3,427.8 788.1,431.6 788.9,428.7 789.7,422.3 790.5,419.8 791.3,426.1 792.1,427.9 792.9,425.3 793.7,428.1 794.5,429.6 795.3,427.8 796.1,427.0 796.9,425.0 797.7,422.3 798.5,421.7 799.3,426.0 800.1,429.6 800.9,424.1 801.7,422.8 802.5,424.2 803.3,427.1 804.1,422.7 804.9,417.2 805.7,420.5 806.5,431.0 807.3,434.8 808.1,426.9 808.9,426.1 809.7,432.0 810.5,429.3 811.3,421.9 812.1,425.7 812.9,428.2 813.7,426.3 814.5,423.4 815.3,426.8 816.1,433.7 816.9,429.9 817.7,426.8 818.5,419.0 819.3,418.8 820.1,423.9 820.9,423.2 821.7,426.0 822.5,423.5 823.3,416.3 824.1,418.2 824.9,420.5 825.7,418.3 826.5,418.4 827.3,418.3 828.1,412.8 828.9,416.8 829.7,424.5 830.5,424.1 831.3,429.2 832.1,425.9 832.9,414.8 833.7,411.5 834.5,412.8 835.3,413.8 836.1,417.2 836.9,412.5 837.7,413.2 838.5,414.3 839.3,414.2 840.1,418.2 840.9,416.6 841.7,416.1 842.5,415.9 843.3,414.2 844.1,411.1 844.9,412.8 845.7,423.4 846.5,429.6 847.3,428.4 848.1,424.7 848.9,419.2 849.7,421.4 850.5,423.9 851.3,419.6 852.1,419.1 852.9,420.0 853.7,420.2 854.5,419.7 855.3,417.9 856.1,417.2 856.9,427.4 857.7,428.9 858.5,422.0 859.3,424.1 860.1,427.5 860.9,423.3 861.7,421.1 862.5,427.0 863.3,428.5 864.1,426.6 864.9,430.4 865.7,428.3 866.5,424.3 867.3,425.0 868.1,429.6 868.9,426.0 869.7,420.2 870.5,424.7 871.3,429.0 872.1,432.6 872.9,435.0 873.7,428.9 874.5,427.9 875.3,432.3 876.1,428.9 876.9,432.1 877.7,432.1 878.5,424.7 879.3,427.3 880.1,429.6 880.9,429.2 881.7,435.0 882.5,438.4 883.3,442.3 884.1,441.2 884.9,432.8 885.7,431.5 886.5,433.2 887.3,432.5 888.1,436.8 888.9,438.8 889.7,431.7 890.5,436.4 891.3,442.0 892.1,441.6 892.9,442.5 893.7,443.7 894.5,443.7 895.3,445.5 896.1,446.9 896.9,444.7 897.7,445.0 898.5,440.0 899.3,438.6 900.1,442.5 900.9,443.9 901.7,441.0 902.5,445.4 903.3,450.1 904.1,441.6 904.9,436.7 905.7,439.9 906.5,445.2 907.3,444.4 908.1,444.9 908.9,445.0 909.7,446.6 910.5,446.8 911.3,445.3 912.1,450.5 912.9,458.2 913.7,452.8 914.5,444.1 915.3,444.7 916.1,448.7 916.9,448.7 917.7,445.3 918.5,448.5 919.3,447.4 920.1,445.3 920.9,447.1 921.7,444.1 922.5,441.5 923.3,446.8 924.1,451.8 924.9,452.8 925.7,447.2 926.5,446.7 927.3,454.6 928.1,458.0 928.9,455.5 929.7,451.4 930.5,454.2 931.3,455.7 932.1,450.9 932.9,450.6 933.7,458.6 934.5,462.2 935.3,461.9 936.1,460.3 936.9,460.3 937.7,460.5 938.5,457.8 939.3,467.2 940.1,470.5 940.9,462.0 941.7,460.0 942.5,462.6 943.3,466.9 944.1,464.9 944.9,456.9 945.7,458.5 946.5,464.0 947.3,465.4 948.1,469.9 948.9,471.1 949.7,470.2 950.5,466.8 951.3,467.4 952.1,477.1 952.9,476.9 953.7,472.3 954.5,470.8 955.3,475.8 956.1,473.0 956.9,468.0 957.7,472.3 958.5,475.3 959.3,473.4 960.1,472.7 960.9,473.6 961.7,473.7 962.5,474.5 963.3,471.5 964.1,472.3 964.9,478.9 965.7,476.2 966.5,473.5 967.3,478.5 968.1,476.4 968.9,475.2 969.7,475.3 970.5,478.4 971.3,488.1 972.1,490.4 972.9,483.4 973.7,479.1 974.5,480.3 975.3,478.6 976.1,482.6 976.9,479.1 977.7,477.4 978.5,481.6 979.3,483.0 980.1,484.0 980.9,478.1 981.7,478.8 982.5,483.0 983.3,483.1 984.1,482.6 984.9,481.1 985.7,474.4 986.5,479.0 987.3,487.7 988.1,486.2 988.9,484.2 989.7,487.9 990.5,486.7 991.3,481.5 992.1,482.6 992.9,488.6 993.7,485.4 994.5,486.0 995.3,488.4 996.1,482.5 996.9,488.5 997.7,491.9 998.5,485.0 999.3,484.9 1000.1,491.7 1000.9,496.7 1001.7,492.7 1002.5,490.7 1003.3,494.8 1004.1,492.3 1004.9,491.8 1005.7,494.0 1006.5,491.6 1007.3,490.6 1008.1,492.5 1008.9,494.6 1009.7,493.0 1010.5,491.7 1011.3,496.6 1012.1,499.1 1012.9,498.8 1013.7,502.0 1014.5,501.5 1015.3,504.7 1016.1,500.4 1016.9,496.1 1017.7,497.5 1018.5,501.1 1019.3,507.1 1020.1,496.2 1020.9,488.4 1021.7,496.5 1022.5,502.2 1023.3,503.0 1024.1,500.4 1024.9,499.9 1025.7,502.3 1026.5,501.0 1027.3,502.7 1028.1,496.8 1028.9,496.5 1029.7,500.9 1030.5,502.3 1031.3,505.3 1032.1,500.4 1032.9,502.9 1033.7,503.3 1034.5,499.7 1035.3,498.3 1036.1,501.6 1036.9,508.1 1037.7,511.8 1038.5,509.9 1039.3,509.9 1040.1,510.8 1040.9,507.3 1041.7,508.7 1042.5,512.2 1043.3,509.6 1044.1,505.6 1044.9,505.7 1045.7,506.4 1046.5,504.6 1047.3,507.3 1048.1,508.8 1048.9,507.1 1049.7,506.0 1050.5,505.7 1051.3,509.6 1052.1,506.9 1052.9,511.6 1053.7,514.1 1054.5,513.3 1055.3,515.0 1056.1,507.9 1056.9,504.2 1057.7,507.9 1058.5,508.9 1059.3,507.4 1060.1,506.3 1060.9,500.8 1061.7,500.8 1062.5,499.7 1063.3,501.5 1064.1,505.8 1064.9,502.5 1065.7,503.8 1066.5,506.6 1067.3,503.0 1068.1,497.2 1068.9,498.1 1069.7,496.8 1070.5,497.0 1071.3,507.9 1072.1,507.0 1072.9,503.6 1073.7,502.4 1074.5,501.0 1075.3,503.5 1076.1,502.3 1076.9,504.7 1077.7,509.8 1078.5,508.6 1079.3,502.9 1080.1,499.3 1080.9,500.7 1081.7,502.3 1082.5,502.8 1083.3,503.0 1084.1,505.9 1084.9,500.0 1085.7,493.6 1086.5,502.0 1087.3,501.7 1088.1,496.5 1088.9,496.7 1089.7,494.8 1090.5,495.4 1091.3,506.7 1092.1,509.2 1092.9,498.2 1093.7,492.0 1094.5,493.6 1095.3,499.0 1096.1,497.2 1096.9,492.0 1097.7,496.9 1098.5,501.2 1099.3,497.2 1100.1,491.1 1100.9,487.4 1101.7,488.4 1102.5,486.1 1103.3,490.2 1104.1,495.1 1104.9,493.8 1105.7,500.9 1106.5,503.0 1107.3,493.4 1108.1,492.1 1108.9,499.2 1109.7,493.9 1110.5,487.8 1111.3,489.3 1112.1,487.1 1112.9,491.3 1113.7,488.6 1114.5,480.9 1115.3,486.7 1116.1,488.5 1116.9,489.7 1117.7,490.9 1118.5,489.4 1119.3,491.5 1120.1,485.4 1120.9,481.3 1121.7,485.0 1122.5,484.5 1123.3,486.5 1124.1,482.9 1124.9,479.9 1125.7,484.5 1126.5,486.7 1127.3,482.2 1128.1,486.6 1128.9,495.4 1129.7,484.6 1130.5,478.2 1131.3,489.4 1132.1,490.0 1132.9,482.7 1133.7,479.4 1134.5,477.0 1135.3,476.3 1136.1,476.1 1136.9,478.1 1137.7,477.8 1138.5,473.2 1139.3,469.8 1140.1,470.1 1140.9,469.8 1141.7,468.5 1142.5,473.1 1143.3,474.2 1144.1,472.4 1144.9,471.7 1145.7,469.8 1146.5,467.5 1147.3,465.8 1148.1,467.1 1148.9,463.9 1149.7,464.9 1150.5,468.0 1151.3,461.1 1152.1,458.8 1152.9,458.3 1153.7,459.6 1154.5,459.1 1155.3,461.2 1156.1,460.8 1156.9,450.4 1157.7,449.9 1158.5,450.0 1159.3,451.6 1160.1,460.7 1160.9,462.8 1161.7,455.2 1162.5,450.6 1163.3,459.4 1164.1,462.2 1164.9,456.9 1165.7,458.8 1166.5,466.1 1167.3,466.5 1168.1,459.1 1168.9,456.1 1169.7,457.3 1170.5,454.1 1171.3,448.8 1172.1,450.4 1172.9,450.3 1173.7,449.6 1174.5,452.4 1175.3,459.3 1176.1,456.3 1176.9,448.4 1177.7,449.8 1178.5,450.7 1179.3,454.0 1180.1,450.9 1180.9,444.8 1181.7,440.9 1182.5,440.1 1183.3,446.1 1184.1,448.5 1184.9,443.5 1185.7,442.1 1186.5,444.5 1187.3,446.6 1188.1,444.5 1188.9,441.9 1189.7,437.8 1190.5,434.5 1191.3,444.0 1192.1,440.3 1192.9,434.1 1193.7,440.9 1194.5,440.5 1195.3,437.5 1196.1,437.7 1196.9,439.5 1197.7,438.7 1198.5,432.6 1199.3,431.9 1200.1,434.2 1200.9,432.7 1201.7,435.6 1202.5,438.8 1203.3,440.3 1204.1,436.4 1204.9,436.0 1205.7,440.2 1206.5,440.6 1207.3,440.5 1208.1,436.6 1208.9,431.7 1209.7,434.3 1210.5,430.5 1211.3,428.3 1212.1,430.4 1212.9,428.1 1213.7,423.9 1214.5,422.0 1215.3,427.1 1216.1,432.1 1216.9,434.6 1217.7,431.3 1218.5,427.0 1219.3,424.6 1220.1,425.6 1220.9,426.8 1221.7,427.2 1222.5,433.0 1223.3,430.5 1224.1,420.7 1224.9,417.8 1225.7,417.7 1226.5,416.3 1227.3,423.6 1228.1,427.7 1228.9,419.1 1229.7,420.2 1230.5,428.4 1231.3,425.0 1232.1,419.0 1232.9,418.7 1233.7,421.1 1234.5,423.2 1235.3,425.6 1236.1,426.6 1236.9,426.1 1237.7,425.9 1238.5,423.9 1239.3,415.1 1240.1,411.8 1240.9,416.7 1241.7,415.6 1242.5,416.8 1243.3,416.2 1244.1,410.5 1244.9,415.3 1245.7,419.1 1246.5,414.9 1247.3,415.3 1248.1,417.8 1248.9,416.1 1249.7,405.8 1250.5,402.4 1251.3,408.0 1252.1,407.2 1252.9,409.1 1253.7,415.0 1254.5,413.0 1255.3,406.4 1256.1,413.5 1256.9,415.6 1257.7,406.1 1258.5,408.0 1259.3,412.7 1260.1,409.9 1260.9,410.9 1261.7,411.4 1262.5,406.8 1263.3,408.7 1264.1,414.1 1264.9,411.8 1265.7,410.6 1266.5,412.3 1267.3,419.2 1268.1,417.1 1268.9,412.3 1269.7,414.1 1270.5,409.6 1271.3,411.6 1272.1,413.9 1272.9,415.0 1273.7,412.9 1274.5,406.6 1275.3,403.8 1276.1,406.5 1276.9,409.3 1277.7,411.2 1278.5,410.1 1279.3,409.0 1280.1,412.1 1280.9,409.8 1281.7,400.6 1282.5,396.8 1283.3,397.0 1284.1,405.6 1284.9,407.4 1285.7,406.8 1286.5,411.4 1287.3,412.6 1288.1,413.7 1288.9,408.5 1289.7,405.4 1290.5,406.5 1291.3,408.0 1292.1,406.6 1292.9,405.8 1293.7,412.6 1294.5,407.7 1295.3,404.4 1296.1,406.9 1296.9,407.0 1297.7,412.2 1298.5,411.5 1299.3,411.7 1300.1,407.5 1300.9,408.9 1301.7,412.2 1302.5,410.7 1303.3,413.0 1304.1,404.1 1304.9,401.6 1305.7,409.9 1306.5,417.1 1307.3,417.2 1308.1,413.5 1308.9,408.7 1309.7,412.8 1310.5,422.6 1311.3,418.8 1312.1,413.3 1312.9,408.7 1313.7,412.1 1314.5,425.1 1315.3,425.1 1316.1,420.8 1316.9,420.7 1317.7,414.5 1318.5,417.2 1319.3,416.8 1320.1,412.7 1320.9,417.3 1321.7,420.6 1322.5,421.6 1323.3,420.3 1324.1,417.0 1324.9,412.3 1325.7,415.1 1326.5,417.2 1327.3,413.3 1328.1,412.2 1328.9,415.1 1329.7,413.6 1330.5,411.8 1331.3,412.9 1332.1,417.6 1332.9,424.3 1333.7,430.1 1334.5,424.8 1335.3,417.9 1336.1,425.4 1336.9,427.4 1337.7,424.3 1338.5,430.3 1339.3,430.9 1340.1,423.0 1340.9,420.8 1341.7,425.8 1342.5,430.7 1343.3,426.3 1344.1,423.0 1344.9,428.6 1345.7,433.7 1346.5,430.8 1347.3,431.1 1348.1,435.5 1348.9,429.1 1349.7,426.9 1350.5,434.0 1351.3,433.5 1352.1,426.4 1352.9,427.3 1353.7,436.3 1354.5,442.3 1355.3,433.8 1356.1,437.6 1356.9,441.7 1357.7,437.1 1358.5,444.6 1359.3,445.0 1360.1,442.3 1360.9,436.3 1361.7,438.1 1362.5,439.8 1363.3,431.2 1364.1,441.9 1364.9,451.9 1365.7,449.3 1366.5,445.1 1367.3,444.7 1368.1,452.4 1368.9,452.7 1369.7,448.7 1370.5,440.8 1371.3,440.9 1372.1,438.2 1372.9,434.0 1373.7,441.2 1374.5,443.8 1375.3,443.0 1376.1,446.1 1376.9,452.2 1377.7,457.0 1378.5,451.0 1379.3,450.8 1380.1,448.5 1380.9,444.5 1381.7,449.3 1382.5,447.1 1383.3,443.7 1384.1,443.4 1384.9,444.8 1385.7,453.8 1386.5,451.4 1387.3,448.0 1388.1,447.7 1388.9,444.2 1389.7,443.2 1390.5,451.6 1391.3,463.1 1392.1,461.0 1392.9,452.2 1393.7,453.5 1394.5,455.1 1395.3,456.3 1396.1,458.9 1396.9,457.9 1397.7,459.3 1398.5,457.4 1399.3,455.3 1400.1,452.2 1400.9,452.8 1401.7,454.5 1402.5,455.8 1403.3,457.3 1404.1,458.7 1404.9,463.6 1405.7,459.7 1406.5,456.3 1407.3,458.2 1408.1,463.7 1408.9,472.1 1409.7,472.5 1410.5,467.3 1411.3,469.2 1412.1,466.8 1412.9,467.3 1413.7,470.1 1414.5,458.2 1415.3,468.7 1416.1,482.2 1416.9,471.2 1417.7,467.5 1418.5,471.0 1419.3,471.0 1420.1,467.3 1420.9,465.5 1421.7,472.1 1422.5,475.0 1423.3,477.6 1424.1,477.4 1424.9,481.2 1425.7,479.4 1426.5,473.7 1427.3,470.4 1428.1,466.1 1428.9,476.6 1429.7,478.0 1430.5,475.7 1431.3,478.7 1432.1,474.6 1432.9,474.1 1433.7,475.9 1434.5,476.0 1435.3,480.2 1436.1,483.7 1436.9,479.9 1437.7,475.6 1438.5,478.5 1439.3,481.0 1440.1,483.1 1440.9,490.9 1441.7,490.5 1442.5,482.8 1443.3,480.1 1444.1,477.5 1444.9,475.5 1445.7,475.0 1446.5,476.4 1447.3,478.1 1448.1,481.5 1448.9,481.7 1449.7,478.6 1450.5,476.1 1451.3,481.3 1452.1,486.9 1452.9,487.8 1453.7,489.0 1454.5,488.3 1455.3,485.2 1456.1,483.5 1456.9,492.3 1457.7,487.2 1458.5,483.1 1459.3,491.8 1460.1,490.2 1460.9,487.9 1461.7,491.2 1462.5,487.7 1463.3,486.1 1464.1,485.8 1464.9,482.9 1465.7,483.5 1466.5,485.4 1467.3,488.2 1468.1,490.0 1468.9,485.8 1469.7,490.8 1470.5,498.8 1471.3,495.5 1472.1,491.2 1472.9,489.3 1473.7,492.3 1474.5,494.0 1475.3,487.7 1476.1,489.2 1476.9,503.6 1477.7,496.5 1478.5,490.9 1479.3,497.9 1480.1,495.3 1480.9,498.3 1481.7,495.1 1482.5,491.9 1483.3,500.2 1484.1,499.1 1484.9,493.1 1485.7,494.1 1486.5,494.3 1487.3,498.4 1488.1,497.1 1488.9,494.9 1489.7,493.7 1490.5,493.4 1491.3,496.9 1492.1,486.9 1492.9,487.4 1493.7,492.1 1494.5,490.6 1495.3,498.2 1496.1,496.1 1496.9,488.4 1497.7,496.4 1498.5,499.8 1499.3,500.0 1500.1,500.4 1500.9,493.4 1501.7,492.4 1502.5,498.8 1503.3,501.7 1504.1,498.0 1504.9,495.3 1505.7,494.6 1506.5,492.4 1507.3,498.7 1508.1,500.9 1508.9,491.6 1509.7,490.3 1510.5,495.8 1511.3,499.1 1512.1,496.3 1512.9,492.0 1513.7,492.7 1514.5,489.6 1515.3,485.8 1516.1,493.4 1516.9,495.7 1517.7,494.5 1518.5,499.7 1519.3,500.6 1520.1,496.8 1520.9,501.2 1521.7,502.9 1522.5,495.2 1523.3,495.3 1524.1,497.5 1524.9,492.9 1525.7,491.2 1526.5,493.1 1527.3,487.1 1528.1,486.8 1528.9,491.6 1529.7,490.8 1530.5,486.8 1531.3,486.8 1532.1,491.6 1532.9,492.8 1533.7,489.3 1534.5,491.4 1535.3,491.2 1536.1,488.5 1536.9,495.8 1537.7,494.7 1538.5,489.2 1539.3,494.2 1540.1,494.6 1540.9,490.3 1541.7,492.1 1542.5,495.8 1543.3,488.4 1544.1,482.3 1544.9,485.7 1545.7,484.7 1546.5,484.6 1547.3,485.0 1548.1,488.5 1548.9,488.3 1549.7,487.4 1550.5,491.0 1551.3,488.1 1552.1,487.3 1552.9,494.1 1553.7,494.4 1554.5,487.2 1555.3,485.8 1556.1,485.1 1556.9,485.8 1557.7,491.0 1558.5,487.3 1559.3,484.4 1560.1,490.0 1560.9,489.0 1561.7,485.8 1562.5,483.8 1563.3,480.8 1564.1,481.9 1564.9,490.8 1565.7,490.9 1566.5,482.7 1567.3,482.1 1568.1,482.7 1568.9,486.2 1569.7,486.8 1570.5,490.8 1571.3,490.1 1572.1,488.0 1572.9,487.9 1573.7,485.4 1574.5,480.3 1575.3,477.8 1576.1,481.1 1576.9,480.6 1577.7,474.1 1578.5,477.3 1579.3,482.1 1580.1,477.7 1580.9,477.7 1581.7,478.3 1582.5,480.2 1583.3,477.0 1584.1,472.6 1584.9,477.1 1585.7,479.8 1586.5,477.9 1587.3,475.5 1588.1,474.3 1588.9,475.7 1589.7,481.7 1590.5,478.1 1591.3,479.0 1592.1,484.3 1592.9,478.3 1593.7,477.2 1594.5,473.0 1595.3,465.0 1596.1,464.9 1596.9,468.0 1597.7,470.4 1598.5,469.0 1599.3,469.3 1600.1,463.7 1600.9,463.7 1601.7,464.5 1602.5,460.5 1603.3,461.9 1604.1,459.8 1604.9,455.9 1605.7,456.2 1606.5,459.9 1607.3,463.8 1608.1,464.8 1608.9,459.0 1609.7,454.1 1610.5,453.3 1611.3,456.7 1612.1,453.0 1612.9,454.6 1613.7,458.8 1614.5,452.5 1615.3,454.8 1616.1,459.6 1616.9,459.0 1617.7,457.9 1618.5,456.6 1619.3,456.8 1620.1,459.3 1620.9,454.9 1621.7,455.2 1622.5,455.5 1623.3,450.9 1624.1,447.1 1624.9,445.8 1625.7,450.5 1626.5,446.9 1627.3,446.1 1628.1,450.2 1628.9,448.7 1629.7,441.0 1630.5,439.7 1631.3,447.8 1632.1,446.1 1632.9,444.4 1633.7,439.2 1634.5,441.0 1635.3,445.6 1636.1,445.9 1636.9,441.9 1637.7,441.0 1638.5,445.2 1639.3,445.2 1640.1,442.9 1640.9,438.8 1641.7,447.6 1642.5,446.6 1643.3,437.2 1644.1,438.1 1644.9,437.1 1645.7,441.0 1646.5,448.7 1647.3,442.8 1648.1,432.0 1648.9,437.5 1649.7,445.5 1650.5,444.2 1651.3,444.1 1652.1,439.0 1652.9,434.5 1653.7,432.9 1654.5,428.7 1655.3,436.0 1656.1,437.7 1656.9,441.1 1657.7,443.3 1658.5,434.0 1659.3,435.6 1660.1,442.9 1660.9,441.5 1661.7,432.3 1662.5,432.0 1663.3,439.1 1664.1,436.1 1664.9,429.2 1665.7,433.3 1666.5,435.6 1667.3,428.7 1668.1,427.1 1668.9,427.4 1669.7,429.2 1670.5,431.9 1671.3,434.5 1672.1,435.6 1672.9,427.3 1673.7,425.9 1674.5,432.5 1675.3,432.1 1676.1,432.4 1676.9,429.6 1677.7,423.5 1678.5,427.6 1679.3,427.1 1680.1,417.8 1680.9,423.4 1681.7,427.0 1682.5,422.7 1683.3,420.5 1684.1,417.5 1684.9,418.0 1685.7,420.6 1686.5,425.1 1687.3,419.3 1688.1,420.1 1688.9,423.0 1689.7,417.5 1690.5,422.8 1691.3,425.0 1692.1,418.4 1692.9,424.2 1693.7,426.1 1694.5,421.3 1695.3,424.3 1696.1,427.7 1696.9,425.6 1697.7,424.3 1698.5,422.9 1699.3,423.4 1700.1,423.3 1700.9,419.1 1701.7,426.6 1702.5,428.1 1703.3,423.2 1704.1,428.5 1704.9,429.1 1705.7,419.7 1706.5,420.5 1707.3,419.0 1708.1,419.3 1708.9,426.2 1709.7,420.7 1710.5,415.0 1711.3,416.8 1712.1,418.3 1712.9,414.2 1713.7,415.2 1714.5,412.0 1715.3,408.5 1716.1,412.8 1716.9,412.6 1717.7,414.2 1718.5,410.6 1719.3,411.0 1720.1,414.2 1720.9,410.2 1721.7,406.5 1722.5,404.9 1723.3,409.7 1724.1,410.1 1724.9,409.3 1725.7,416.0 1726.5,419.0 1727.3,420.6 1728.1,416.8 1728.9,409.3 1729.7,413.2 1730.5,417.6 1731.3,418.2 1732.1,417.6 1732.9,418.0 1733.7,420.8 1734.5,419.5 1735.3,418.4 1736.1,417.7 1736.9,417.1 1737.7,416.2 1738.5,418.7 1739.3,416.3 1740.1,418.4 1740.9,419.5 1741.7,417.4 1742.5,417.3 1743.3,413.7 1744.1,419.7 1744.9,419.4 1745.7,409.7 1746.5,408.8 1747.3,411.7 1748.1,420.4 1748.9,421.9 1749.7,418.5 1750.5,414.9 1751.3,413.1 1752.1,418.2 1752.9,422.7 1753.7,419.1 1754.5,415.8 1755.3,418.5 1756.1,414.0 1756.9,413.2 1757.7,415.4 1758.5,408.7 1759.3,411.3 1760.1,419.5 1760.9,416.4 1761.7,410.9 1762.5,416.4 1763.3,421.7 1764.1,420.4 1764.9,423.7 1765.7,419.3 1766.5,418.1 1767.3,419.1 1768.1,416.8 1768.9,417.1 1769.7,417.4 1770.5,420.9 1771.3,421.6 1772.1,418.6 1772.9,417.5 1773.7,419.6 1774.5,418.0 1775.3,415.5 1776.1,418.5 1776.9,418.9 1777.7,419.0 1778.5,418.6 1779.3,425.2 1780.1,430.8 1780.9,427.1 1781.7,423.4 1782.5,429.0 1783.3,430.2 1784.1,423.5 1784.9,423.7 1785.7,425.1 1786.5,428.8 1787.3,428.3 1788.1,430.4 1788.9,428.0 1789.7,424.3 1790.5,424.4 1791.3,427.7 1792.1,430.2 1792.9,424.4 1793.7,428.4 1794.5,432.8 1795.3,427.2 1796.1,423.1 1796.9,422.7 1797.7,424.6 1798.5,429.0 1799.3,427.8 1800.1,426.5 1800.9,426.7 1801.7,426.7 1802.5,430.1 1803.3,437.1 1804.1,430.4 1804.9,425.9 1805.7,430.6 1806.5,432.3 1807.3,431.6 1808.1,430.0 1808.9,430.2 1809.7,432.8 1810.5,436.5 1811.3,434.2 1812.1,435.6 1812.9,436.5 1813.7,431.4 1814.5,434.4 1815.3,440.9 1816.1,439.2 1816.9,442.3 1817.7,447.4 1818.5,442.5 1819.3,437.1 1820.1,445.6 1820.9,452.9 1821.7,447.1 1822.5,440.3 1823.3,441.9 1824.1,444.7 1824.9,442.0 1825.7,444.6 1826.5,446.5 1827.3,443.5 1828.1,450.7 1828.9,452.9 1829.7,450.5 1830.5,454.9 1831.3,458.1 1832.1,455.8 1832.9,453.8 1833.7,452.6 1834.5,457.6" fill="none" stroke="#ED7D31" stroke-width="5.6" stroke-linejoin="round" stroke-linecap="round"/>
<line x1="547.0" y1="26.3" x2="547.0" y2="1108" stroke="#000" stroke-width="10" stroke-dasharray="40.1 30.43"/>
<line x1="1237.1" y1="26.3" x2="1237.1" y2="1108" stroke="#000" stroke-width="10" stroke-dasharray="40.1 30.43"/>
<line x1="1292.0" y1="26.3" x2="1292.0" y2="1108" stroke="#000" stroke-width="10" stroke-dasharray="40.1 30.43"/>
<line x1="545.0" y1="149.6" x2="378.0" y2="149.6" stroke="#000" stroke-width="6.0"/><polygon points="356.0,149.6 380.0,137.6 380.0,161.6" fill="#000"/>
<line x1="547.0" y1="204.3" x2="789.5" y2="204.3" stroke="#000" stroke-width="6.0"/><polygon points="811.5,204.3 787.5,216.3 787.5,192.3" fill="#000"/>
<line x1="1111.5" y1="938.8" x2="1204.2" y2="938.8" stroke="#000" stroke-width="6.0"/><polygon points="1226.2,938.8 1202.2,950.8 1202.2,926.8" fill="#000"/>
<line x1="1416.2" y1="942.6" x2="1327.0" y2="942.6" stroke="#000" stroke-width="6.0"/><polygon points="1305.0,942.6 1329.0,930.6 1329.0,954.6" fill="#000"/>
<line x1="1853.3" y1="194.5" x2="1818.2" y2="282.6" stroke="#000" stroke-width="1.8"/><polygon points="1810.0,303.0 1807.8,276.3 1830.0,285.2" fill="#000"/>
<line x1="1012.5" y1="671.2" x2="1125.0" y2="558.6" stroke="#000" stroke-width="1.8"/><polygon points="1140.5,543.0 1131.7,568.1 1115.4,551.9" fill="#000"/>
<text y="90.70" font-size="68.00" fill="#000"><tspan x="171.98" textLength="142.45" lengthAdjust="spacingAndGlyphs">Only</tspan> <tspan x="332.15" textLength="204.67" lengthAdjust="spacingAndGlyphs">heater</tspan></text>
<text y="154.80" font-size="68.00" fill="#000"><tspan x="597.78" textLength="494.86" lengthAdjust="spacingAndGlyphs">Heater+agitator</tspan></text>
<text y="174.00" font-size="68.00" fill="#000"><tspan x="1578.71" textLength="402.94" lengthAdjust="spacingAndGlyphs">Temperature</tspan></text>
<text y="695.00" font-size="68.00" fill="#000"><tspan x="710.85" textLength="273.01" lengthAdjust="spacingAndGlyphs">Viscosity</tspan></text>
<text y="892.50" font-size="68.00" fill="#000"><tspan x="1330.65" textLength="225.78" lengthAdjust="spacingAndGlyphs">System</tspan> <tspan x="1567.91" textLength="200.79" lengthAdjust="spacingAndGlyphs">inertia</tspan> <tspan x="1787.07" textLength="92.92" lengthAdjust="spacingAndGlyphs">lag</tspan></text>
<text y="1331.80" font-size="75.50" fill="#000"><tspan x="1027.22" textLength="172.74" lengthAdjust="spacingAndGlyphs">Time</tspan> <tspan x="1217.93" textLength="82.90" lengthAdjust="spacingAndGlyphs">(s)</tspan></text>
<text transform="translate(85.00 0) rotate(-90)" y="0" font-size="75.50" fill="#000"><tspan x="-911.67" textLength="292.24" lengthAdjust="spacingAndGlyphs">Viscosity</tspan> <tspan x="-599.17" textLength="234.70" lengthAdjust="spacingAndGlyphs">(mPas)</tspan></text>
<text transform="translate(2288.80 0) rotate(-90)" y="0" font-size="75.50" fill="#000"><tspan x="-927.35" textLength="436.86" lengthAdjust="spacingAndGlyphs">Temperature</tspan> <tspan x="-472.80" textLength="122.11" lengthAdjust="spacingAndGlyphs">(°C)</tspan></text>
<text transform="translate(119.75 178.67) scale(1.0196 1)" font-size="59.90" fill="#000">20</text>
<text transform="translate(119.80 417.64) scale(1.0235 1)" font-size="59.90" fill="#000">15</text>
<text transform="translate(119.83 656.62) scale(1.0184 1)" font-size="59.90" fill="#000">10</text>
<text transform="translate(152.98 895.59) scale(1.0509 1)" font-size="59.90" fill="#000">5</text>
<text transform="translate(152.44 1134.57) scale(1.0684 1)" font-size="59.90" fill="#000">0</text>
<text transform="translate(2134.60 176.31) scale(1.0846 1)" font-size="50.60" fill="#000">50</text>
<text transform="translate(2135.44 415.29) scale(1.0742 1)" font-size="50.60" fill="#000">45</text>
<text transform="translate(2135.45 654.26) scale(1.0691 1)" font-size="50.60" fill="#000">40</text>
<text transform="translate(2134.59 893.24) scale(1.0898 1)" font-size="50.60" fill="#000">35</text>
<text transform="translate(2134.60 1132.21) scale(1.0846 1)" font-size="50.60" fill="#000">30</text>
<text transform="translate(181.59 1222.00) scale(1.0384 1)" font-size="59.90" fill="#000">2000</text>
<text transform="translate(640.26 1222.00) scale(1.0264 1)" font-size="59.90" fill="#000">4000</text>
<text transform="translate(1095.79 1222.00) scale(1.0384 1)" font-size="59.90" fill="#000">6000</text>
<text transform="translate(1553.21 1222.00) scale(1.0360 1)" font-size="59.90" fill="#000">8000</text>
<text transform="translate(1992.25 1222.00) scale(1.0349 1)" font-size="59.90" fill="#000">10000</text>
</svg>
</body></html>
